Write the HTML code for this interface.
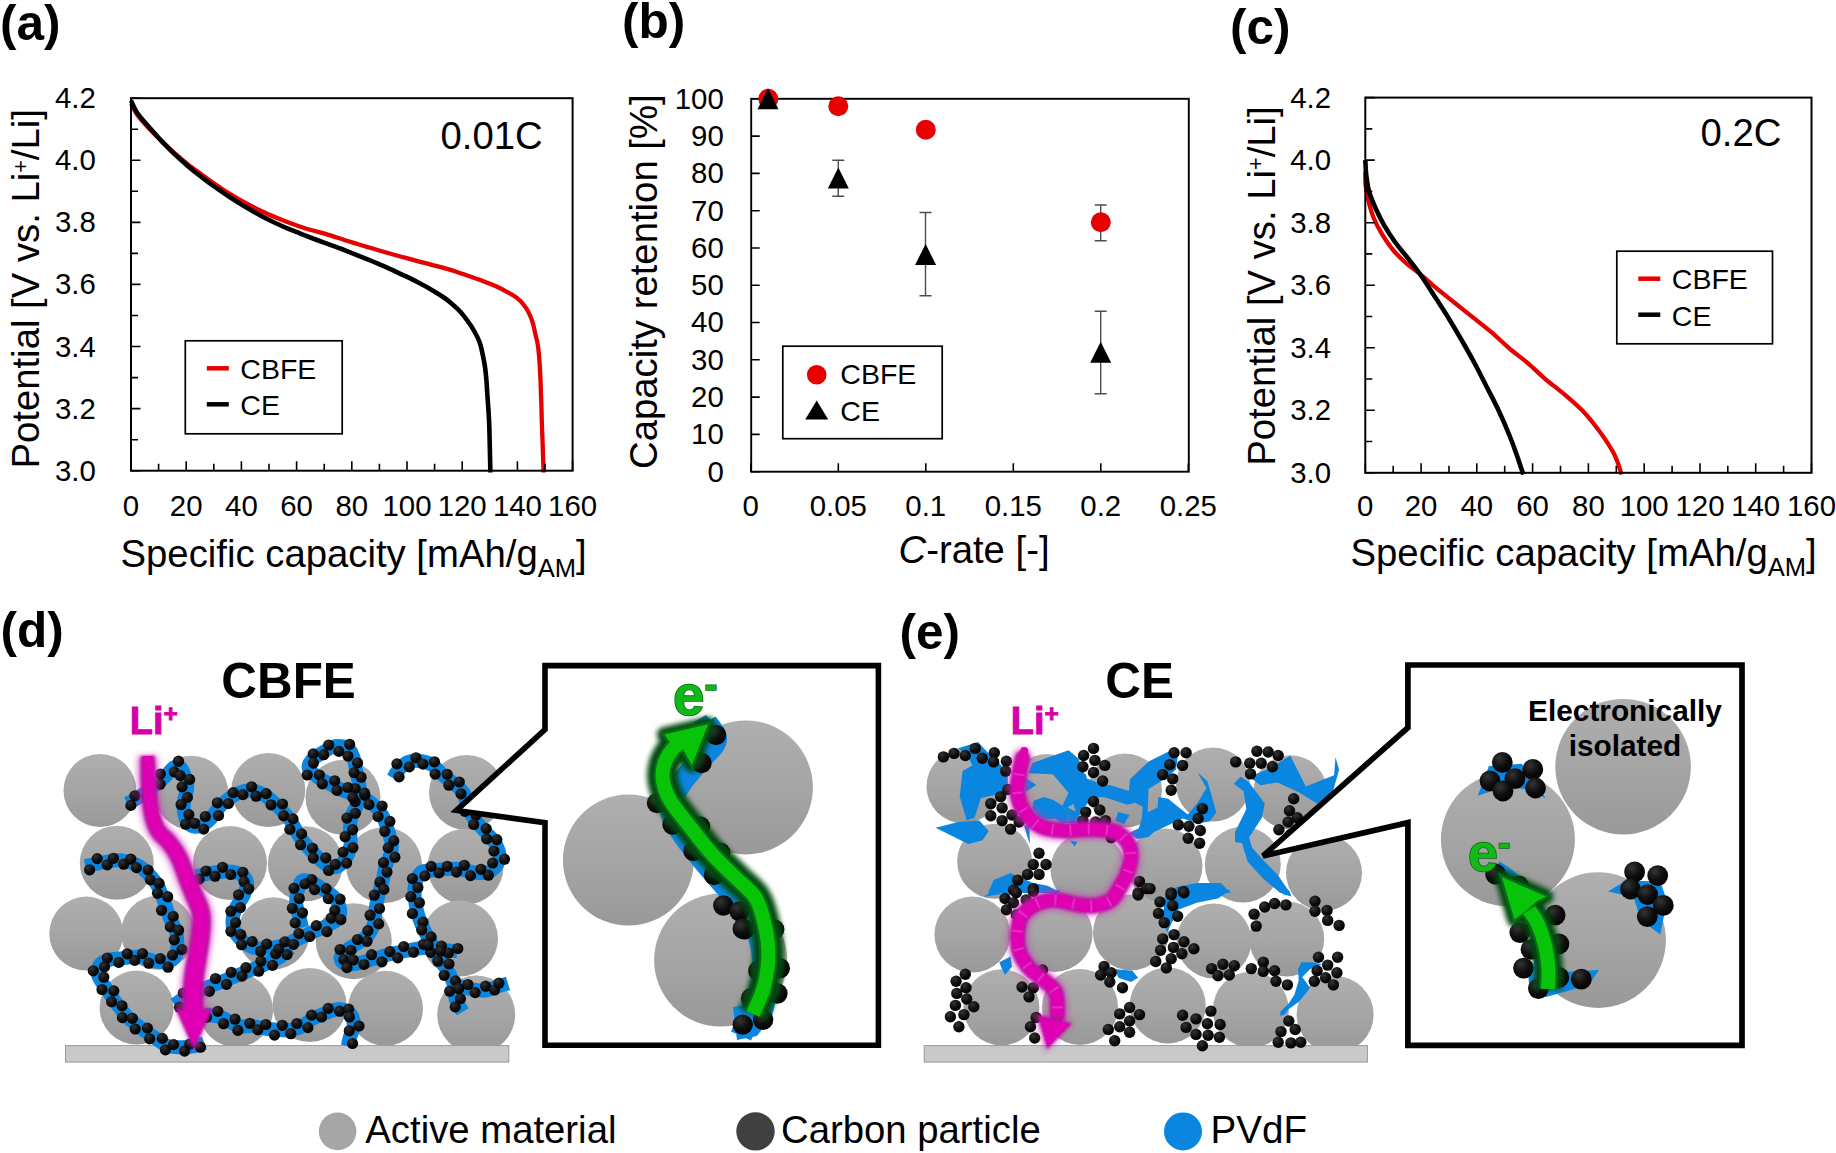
<!DOCTYPE html>
<html><head><meta charset="utf-8"><title>Figure</title>
<style>
html,body{margin:0;padding:0;background:#fff;}
body{width:1836px;height:1153px;overflow:hidden;font-family:"Liberation Sans",sans-serif;}
svg{display:block;font-family:"Liberation Sans",sans-serif;}
</style></head><body>
<svg width="1836" height="1153" viewBox="0 0 1836 1153">
<rect width="1836" height="1153" fill="#fff"/>
<path d="M131.0,103.5 C132.1,105.5 134.3,110.9 137.5,115.2 C140.7,119.5 145.9,125.1 150.1,129.6 C154.3,134.1 158.4,138.1 162.6,142.1 C166.8,146.1 170.9,150.0 175.1,153.7 C179.3,157.4 183.5,160.8 187.7,164.1 C191.9,167.4 196.0,170.4 200.2,173.5 C204.4,176.6 208.5,179.6 212.7,182.5 C216.9,185.4 221.1,188.3 225.3,191.0 C229.5,193.7 233.6,196.1 237.8,198.5 C242.0,200.9 246.1,203.2 250.3,205.4 C254.5,207.6 258.6,209.7 262.8,211.7 C267.0,213.7 271.2,215.5 275.4,217.3 C279.6,219.1 283.7,220.7 287.9,222.3 C292.1,223.9 296.2,225.3 300.4,226.7 C304.6,228.1 308.8,229.3 313.0,230.5 C317.2,231.7 320.2,232.3 325.5,233.9 C330.8,235.5 339.7,238.5 345.0,240.2 C350.3,241.9 353.3,242.7 357.5,244.0 C361.7,245.3 365.9,246.6 370.1,247.8 C374.3,249.1 378.4,250.3 382.6,251.5 C386.8,252.7 390.9,253.8 395.1,255.0 C399.3,256.1 403.5,257.3 407.7,258.4 C411.9,259.5 416.0,260.7 420.2,261.8 C424.4,262.9 428.5,264.0 432.7,265.1 C436.9,266.2 441.1,267.2 445.3,268.4 C449.5,269.6 453.6,270.8 457.8,272.2 C462.0,273.6 466.1,275.1 470.3,276.6 C474.5,278.1 478.6,279.4 482.8,281.0 C487.0,282.6 491.2,284.1 495.4,286.0 C499.6,287.9 504.8,290.6 507.9,292.3 C511.0,294.0 512.1,294.6 514.2,296.0 C516.3,297.4 518.5,299.1 520.4,301.0 C522.3,302.9 524.0,305.2 525.5,307.3 C527.0,309.4 528.0,310.9 529.2,313.6 C530.5,316.3 532.0,320.1 533.0,323.6 C534.0,327.2 534.8,331.8 535.5,334.9 C536.2,338.0 536.8,339.1 537.4,342.5 C538.0,345.9 538.6,350.9 539.0,355.1 C539.4,359.3 539.6,363.4 539.9,367.6 C540.1,371.8 540.3,375.9 540.5,380.1 C540.7,384.3 540.8,388.5 540.9,392.7 C541.0,396.9 541.3,401.0 541.4,405.2 C541.5,409.4 541.6,413.5 541.7,417.7 C541.8,421.9 542.0,426.1 542.1,430.3 C542.2,434.5 542.5,438.6 542.6,442.8 C542.8,447.0 542.8,450.4 543.0,455.3 C543.2,460.2 543.5,469.6 543.6,472.5" fill="none" stroke="#e60000" stroke-width="4.3" stroke-linejoin="round"/>
<path d="M131.0,100.5 C132.1,102.6 134.3,108.7 137.5,113.3 C140.7,117.9 145.9,123.5 150.1,128.3 C154.3,133.1 158.4,137.7 162.6,142.1 C166.8,146.5 170.9,150.7 175.1,154.7 C179.3,158.7 183.5,162.3 187.7,165.9 C191.9,169.5 196.0,172.8 200.2,176.0 C204.4,179.2 208.5,182.4 212.7,185.4 C216.9,188.4 221.1,191.3 225.3,194.1 C229.5,196.9 233.6,199.7 237.8,202.3 C242.0,204.9 246.1,207.4 250.3,209.8 C254.5,212.2 258.6,214.5 262.8,216.7 C267.0,218.9 271.2,221.0 275.4,223.0 C279.6,225.0 283.7,226.8 287.9,228.6 C292.1,230.4 296.2,231.9 300.4,233.6 C304.6,235.2 308.8,236.9 313.0,238.5 C317.2,240.1 321.3,241.6 325.5,243.1 C329.7,244.6 334.8,246.5 338.0,247.7 C341.2,248.9 341.8,249.0 345.0,250.3 C348.2,251.6 353.3,253.6 357.5,255.3 C361.7,257.0 365.9,258.6 370.1,260.3 C374.3,262.0 378.4,263.9 382.6,265.7 C386.8,267.5 390.9,269.4 395.1,271.3 C399.3,273.2 403.5,275.2 407.7,277.2 C411.9,279.2 416.0,281.3 420.2,283.5 C424.4,285.7 428.5,287.9 432.7,290.4 C436.9,292.9 442.2,296.3 445.3,298.5 C448.4,300.7 449.4,301.7 451.5,303.5 C453.6,305.3 455.7,307.1 457.8,309.2 C459.9,311.3 461.9,313.5 464.0,316.1 C466.1,318.7 468.5,322.2 470.3,324.8 C472.1,327.4 473.1,329.1 474.7,332.0 C476.3,334.9 478.3,338.6 479.7,342.5 C481.1,346.4 481.9,350.9 482.8,355.1 C483.7,359.3 484.5,363.4 485.1,367.6 C485.7,371.8 486.0,375.9 486.4,380.1 C486.8,384.3 486.9,388.5 487.2,392.7 C487.5,396.9 487.8,401.0 488.1,405.2 C488.4,409.4 488.7,413.5 488.9,417.7 C489.1,421.9 489.3,426.1 489.4,430.3 C489.5,434.5 489.6,438.6 489.7,442.8 C489.8,447.0 489.9,450.4 490.0,455.3 C490.1,460.2 490.3,469.6 490.4,472.5" fill="none" stroke="#000" stroke-width="4.6" stroke-linejoin="round"/>
<rect x="131.0" y="98.2" width="441.6" height="372.5" fill="none" stroke="#000" stroke-width="2"/>
<path d="M131.0,470.7h9.5M131.0,439.7h7.0M131.0,408.6h9.5M131.0,377.6h7.0M131.0,346.5h9.5M131.0,315.5h7.0M131.0,284.4h9.5M131.0,253.4h7.0M131.0,222.4h9.5M131.0,191.3h7.0M131.0,160.3h9.5M131.0,129.2h7.0M131.0,98.2h9.5M131.0,470.7v-9.5M158.6,470.7v-7.0M186.2,470.7v-9.5M213.8,470.7v-7.0M241.4,470.7v-9.5M269.0,470.7v-7.0M296.6,470.7v-9.5M324.2,470.7v-7.0M351.8,470.7v-9.5M379.4,470.7v-7.0M407.0,470.7v-9.5M434.6,470.7v-7.0M462.2,470.7v-9.5M489.8,470.7v-7.0M517.4,470.7v-9.5M545.0,470.7v-7.0M572.6,470.7v-9.5" stroke="#000" stroke-width="1.6" fill="none"/>
<text x="95.8" y="480.7" font-size="29.4" text-anchor="end" font-weight="normal" fill="#000" >3.0</text>
<text x="95.8" y="418.6" font-size="29.4" text-anchor="end" font-weight="normal" fill="#000" >3.2</text>
<text x="95.8" y="356.5" font-size="29.4" text-anchor="end" font-weight="normal" fill="#000" >3.4</text>
<text x="95.8" y="294.4" font-size="29.4" text-anchor="end" font-weight="normal" fill="#000" >3.6</text>
<text x="95.8" y="232.4" font-size="29.4" text-anchor="end" font-weight="normal" fill="#000" >3.8</text>
<text x="95.8" y="170.3" font-size="29.4" text-anchor="end" font-weight="normal" fill="#000" >4.0</text>
<text x="95.8" y="108.2" font-size="29.4" text-anchor="end" font-weight="normal" fill="#000" >4.2</text>
<text x="131.0" y="515.6" font-size="29.4" text-anchor="middle" font-weight="normal" fill="#000" >0</text>
<text x="186.2" y="515.6" font-size="29.4" text-anchor="middle" font-weight="normal" fill="#000" >20</text>
<text x="241.4" y="515.6" font-size="29.4" text-anchor="middle" font-weight="normal" fill="#000" >40</text>
<text x="296.6" y="515.6" font-size="29.4" text-anchor="middle" font-weight="normal" fill="#000" >60</text>
<text x="351.8" y="515.6" font-size="29.4" text-anchor="middle" font-weight="normal" fill="#000" >80</text>
<text x="407.0" y="515.6" font-size="29.4" text-anchor="middle" font-weight="normal" fill="#000" >100</text>
<text x="462.2" y="515.6" font-size="29.4" text-anchor="middle" font-weight="normal" fill="#000" >120</text>
<text x="517.4" y="515.6" font-size="29.4" text-anchor="middle" font-weight="normal" fill="#000" >140</text>
<text x="572.6" y="515.6" font-size="29.4" text-anchor="middle" font-weight="normal" fill="#000" >160</text>
<text transform="translate(39.0,468.6) rotate(-90)" font-size="38.3" text-anchor="start">Potential [V vs. Li<tspan font-size="21.5" dy="-11.5">+</tspan><tspan dy="11.5">/Li]</tspan></text>
<text x="120.5" y="566.5" font-size="38.3">Specific capacity [mAh/g<tspan font-size="25.5" dy="10">AM</tspan><tspan dy="-10">]</tspan></text>
<text x="440.5" y="149.0" font-size="38.3" text-anchor="start" font-weight="normal" fill="#000" >0.01C</text>
<rect x="185.3" y="340.8" width="156.9" height="93.0" fill="#fff" stroke="#000" stroke-width="1.7"/>
<path d="M206.8,368.3h22" stroke="#e60000" stroke-width="4.5"/>
<path d="M206.8,404.3h22" stroke="#000" stroke-width="4.5"/>
<text x="240.3" y="379.0" font-size="28.5" text-anchor="start" font-weight="normal" fill="#000" >CBFE</text>
<text x="240.3" y="415.2" font-size="28.5" text-anchor="start" font-weight="normal" fill="#000" >CE</text>
<path d="M1365.3,172.0 C1365.3,174.2 1365.1,180.6 1365.6,185.3 C1366.1,190.0 1367.0,195.0 1368.3,200.3 C1369.6,205.6 1371.1,211.4 1373.3,217.0 C1375.5,222.6 1378.4,228.1 1381.7,233.7 C1385.0,239.2 1389.1,245.3 1393.3,250.3 C1397.5,255.3 1402.0,259.5 1406.7,263.7 C1411.4,267.9 1416.8,271.2 1421.7,275.3 C1426.7,279.4 1430.9,283.6 1436.4,288.2 C1441.9,292.8 1448.5,297.9 1454.6,302.8 C1460.7,307.7 1466.8,312.5 1472.9,317.4 C1479.0,322.2 1485.0,326.8 1491.1,331.9 C1497.2,337.0 1503.2,343.1 1509.3,348.3 C1515.4,353.5 1521.4,357.7 1527.5,362.9 C1533.6,368.1 1539.6,374.1 1545.7,379.3 C1551.8,384.5 1557.8,388.7 1563.9,393.9 C1570.0,399.1 1577.2,405.4 1582.1,410.3 C1587.0,415.2 1589.4,418.4 1593.1,423.0 C1596.8,427.6 1600.7,432.8 1604.0,437.6 C1607.3,442.5 1610.7,447.6 1613.1,452.1 C1615.5,456.7 1617.2,461.2 1618.6,464.9 C1620.0,468.6 1621.1,472.9 1621.6,474.5" fill="none" stroke="#e60000" stroke-width="4.3" stroke-linejoin="round"/>
<path d="M1365.3,160.0 C1365.5,162.6 1365.6,170.0 1366.3,175.3 C1367.0,180.6 1367.6,186.4 1369.2,192.0 C1370.8,197.6 1373.3,203.1 1375.8,208.7 C1378.3,214.2 1381.0,219.8 1384.2,225.3 C1387.4,230.9 1391.0,236.4 1395.0,242.0 C1399.0,247.6 1404.0,253.1 1408.3,258.7 C1412.6,264.2 1416.1,268.6 1420.8,275.3 C1425.5,282.0 1431.5,291.6 1436.4,299.1 C1441.3,306.6 1445.6,313.3 1450.0,320.5 C1454.4,327.7 1458.8,335.2 1463.0,342.5 C1467.2,349.8 1471.1,356.7 1475.0,364.0 C1478.9,371.3 1482.6,378.8 1486.5,386.5 C1490.4,394.2 1494.6,401.9 1498.4,410.0 C1502.2,418.1 1506.3,427.6 1509.3,435.0 C1512.3,442.4 1514.3,447.9 1516.6,454.5 C1518.9,461.1 1522.2,471.2 1523.3,474.5" fill="none" stroke="#000" stroke-width="4.6" stroke-linejoin="round"/>
<rect x="1365.3" y="97.6" width="446.2" height="375.2" fill="none" stroke="#000" stroke-width="2"/>
<path d="M1365.3,472.8h9.5M1365.3,441.5h7.0M1365.3,410.3h9.5M1365.3,379.0h7.0M1365.3,347.7h9.5M1365.3,316.5h7.0M1365.3,285.2h9.5M1365.3,253.9h7.0M1365.3,222.7h9.5M1365.3,191.4h7.0M1365.3,160.1h9.5M1365.3,128.9h7.0M1365.3,97.6h9.5M1365.3,472.8v-9.5M1393.2,472.8v-7.0M1421.1,472.8v-9.5M1449.0,472.8v-7.0M1476.8,472.8v-9.5M1504.7,472.8v-7.0M1532.6,472.8v-9.5M1560.5,472.8v-7.0M1588.4,472.8v-9.5M1616.3,472.8v-7.0M1644.2,472.8v-9.5M1672.1,472.8v-7.0M1700.0,472.8v-9.5M1727.8,472.8v-7.0M1755.7,472.8v-9.5M1783.6,472.8v-7.0M1811.5,472.8v-9.5" stroke="#000" stroke-width="1.6" fill="none"/>
<text x="1331.0" y="482.8" font-size="29.4" text-anchor="end" font-weight="normal" fill="#000" >3.0</text>
<text x="1331.0" y="420.3" font-size="29.4" text-anchor="end" font-weight="normal" fill="#000" >3.2</text>
<text x="1331.0" y="357.7" font-size="29.4" text-anchor="end" font-weight="normal" fill="#000" >3.4</text>
<text x="1331.0" y="295.2" font-size="29.4" text-anchor="end" font-weight="normal" fill="#000" >3.6</text>
<text x="1331.0" y="232.7" font-size="29.4" text-anchor="end" font-weight="normal" fill="#000" >3.8</text>
<text x="1331.0" y="170.1" font-size="29.4" text-anchor="end" font-weight="normal" fill="#000" >4.0</text>
<text x="1331.0" y="107.6" font-size="29.4" text-anchor="end" font-weight="normal" fill="#000" >4.2</text>
<text x="1365.3" y="516.2" font-size="29.4" text-anchor="middle" font-weight="normal" fill="#000" >0</text>
<text x="1421.1" y="516.2" font-size="29.4" text-anchor="middle" font-weight="normal" fill="#000" >20</text>
<text x="1476.8" y="516.2" font-size="29.4" text-anchor="middle" font-weight="normal" fill="#000" >40</text>
<text x="1532.6" y="516.2" font-size="29.4" text-anchor="middle" font-weight="normal" fill="#000" >60</text>
<text x="1588.4" y="516.2" font-size="29.4" text-anchor="middle" font-weight="normal" fill="#000" >80</text>
<text x="1644.2" y="516.2" font-size="29.4" text-anchor="middle" font-weight="normal" fill="#000" >100</text>
<text x="1700.0" y="516.2" font-size="29.4" text-anchor="middle" font-weight="normal" fill="#000" >120</text>
<text x="1755.7" y="516.2" font-size="29.4" text-anchor="middle" font-weight="normal" fill="#000" >140</text>
<text x="1811.5" y="516.2" font-size="29.4" text-anchor="middle" font-weight="normal" fill="#000" >160</text>
<text transform="translate(1274.8,465.8) rotate(-90)" font-size="38.3" text-anchor="start">Potential [V vs. Li<tspan font-size="21.5" dy="-11.5">+</tspan><tspan dy="11.5">/Li]</tspan></text>
<text x="1350.5" y="566.0" font-size="38.3">Specific capacity [mAh/g<tspan font-size="25.5" dy="10">AM</tspan><tspan dy="-10">]</tspan></text>
<text x="1700.5" y="146.2" font-size="38.3" text-anchor="start" font-weight="normal" fill="#000" >0.2C</text>
<rect x="1616.8" y="251.2" width="155.7" height="92.6" fill="#fff" stroke="#000" stroke-width="1.7"/>
<path d="M1638.3,278.7h22" stroke="#e60000" stroke-width="4.5"/>
<path d="M1638.3,314.7h22" stroke="#000" stroke-width="4.5"/>
<text x="1671.8" y="289.4" font-size="28.5" text-anchor="start" font-weight="normal" fill="#000" >CBFE</text>
<text x="1671.8" y="325.6" font-size="28.5" text-anchor="start" font-weight="normal" fill="#000" >CE</text>
<path d="M838.3,160.3V196.2M832.3,160.3h12M832.3,196.2h12M925.5,212.5V295.8M919.5,212.5h12M919.5,295.8h12M1100.7,311.3V393.7M1094.7,311.3h12M1094.7,393.7h12M1100.7,205.0V240.8M1094.7,205.0h12M1094.7,240.8h12" stroke="#4d4d4d" stroke-width="1.4" fill="none"/>
<rect x="751.2" y="98.8" width="437.6" height="372.9" fill="none" stroke="#000" stroke-width="1.9"/>
<path d="M751.2,471.7h8.5M751.2,434.4h8.5M751.2,397.1h8.5M751.2,359.8h8.5M751.2,322.5h8.5M751.2,285.2h8.5M751.2,248.0h8.5M751.2,210.7h8.5M751.2,173.4h8.5M751.2,136.1h8.5M751.2,98.8h8.5M750.8,471.7v-8.5M838.3,471.7v-8.5M925.8,471.7v-8.5M1013.3,471.7v-8.5M1100.8,471.7v-8.5M1188.3,471.7v-8.5" stroke="#000" stroke-width="1.6" fill="none"/>
<circle cx="768.3" cy="98.8" r="10" fill="#e60000"/>
<circle cx="838.3" cy="106.3" r="10" fill="#e60000"/>
<circle cx="925.8" cy="129.8" r="10" fill="#e60000"/>
<circle cx="1100.8" cy="222.2" r="10" fill="#e60000"/>
<path d="M768.0,88.3L778.5,109.3L757.5,109.3Z" fill="#000"/>
<path d="M838.3,167.5L848.8,188.5L827.8,188.5Z" fill="#000"/>
<path d="M925.6,243.9L936.1,264.9L915.1,264.9Z" fill="#000"/>
<path d="M1100.7,341.8L1111.2,362.8L1090.2,362.8Z" fill="#000"/>
<text x="723.8" y="481.5" font-size="29.4" text-anchor="end" font-weight="normal" fill="#000" >0</text>
<text x="723.8" y="444.2" font-size="29.4" text-anchor="end" font-weight="normal" fill="#000" >10</text>
<text x="723.8" y="406.9" font-size="29.4" text-anchor="end" font-weight="normal" fill="#000" >20</text>
<text x="723.8" y="369.6" font-size="29.4" text-anchor="end" font-weight="normal" fill="#000" >30</text>
<text x="723.8" y="332.3" font-size="29.4" text-anchor="end" font-weight="normal" fill="#000" >40</text>
<text x="723.8" y="295.1" font-size="29.4" text-anchor="end" font-weight="normal" fill="#000" >50</text>
<text x="723.8" y="257.8" font-size="29.4" text-anchor="end" font-weight="normal" fill="#000" >60</text>
<text x="723.8" y="220.5" font-size="29.4" text-anchor="end" font-weight="normal" fill="#000" >70</text>
<text x="723.8" y="183.2" font-size="29.4" text-anchor="end" font-weight="normal" fill="#000" >80</text>
<text x="723.8" y="145.9" font-size="29.4" text-anchor="end" font-weight="normal" fill="#000" >90</text>
<text x="723.8" y="108.6" font-size="29.4" text-anchor="end" font-weight="normal" fill="#000" >100</text>
<text x="750.8" y="516.3" font-size="29.4" text-anchor="middle" font-weight="normal" fill="#000" >0</text>
<text x="838.3" y="516.3" font-size="29.4" text-anchor="middle" font-weight="normal" fill="#000" >0.05</text>
<text x="925.8" y="516.3" font-size="29.4" text-anchor="middle" font-weight="normal" fill="#000" >0.1</text>
<text x="1013.3" y="516.3" font-size="29.4" text-anchor="middle" font-weight="normal" fill="#000" >0.15</text>
<text x="1100.8" y="516.3" font-size="29.4" text-anchor="middle" font-weight="normal" fill="#000" >0.2</text>
<text x="1188.3" y="516.3" font-size="29.4" text-anchor="middle" font-weight="normal" fill="#000" >0.25</text>
<text transform="translate(656.5,469.0) rotate(-90)" font-size="38.3">Capacity retention [%]</text>
<text x="898.5" y="563.3" font-size="38.3"><tspan font-style="italic">C</tspan>-rate [-]</text>
<rect x="782.8" y="346.2" width="159.4" height="92.5" fill="#fff" stroke="#000" stroke-width="1.7"/>
<circle cx="816.7" cy="374.7" r="9.8" fill="#e60000"/>
<path d="M816.7,400.6L828.2,419.6L805.2,419.6Z" fill="#000"/>
<text x="840.3" y="384.4" font-size="28.5" text-anchor="start" font-weight="normal" fill="#000" >CBFE</text>
<text x="840.3" y="421.0" font-size="28.5" text-anchor="start" font-weight="normal" fill="#000" >CE</text>
<text x="0.0" y="40.3" font-size="49.5" text-anchor="start" font-weight="bold" fill="#000" >(a)</text>
<text x="622.0" y="38.3" font-size="49.5" text-anchor="start" font-weight="bold" fill="#000" >(b)</text>
<text x="1230.0" y="43.6" font-size="49.5" text-anchor="start" font-weight="bold" fill="#000" >(c)</text>
<defs>
<linearGradient id="gs" x1="0" y1="0" x2="0" y2="1"><stop offset="0" stop-color="#afafaf"/><stop offset="0.5" stop-color="#a5a5a5"/><stop offset="1" stop-color="#999999"/></linearGradient>
<radialGradient id="gd" cx="0.36" cy="0.3" r="0.75"><stop offset="0" stop-color="#343434"/><stop offset="0.55" stop-color="#0e0e0e"/><stop offset="1" stop-color="#000"/></radialGradient>
<filter id="blur3" x="-50%" y="-50%" width="200%" height="200%"><feGaussianBlur stdDeviation="3.2"/></filter>
<filter id="blur1" x="-50%" y="-50%" width="200%" height="200%"><feGaussianBlur stdDeviation="1.1"/></filter>
<filter id="blur2" x="-50%" y="-50%" width="200%" height="200%"><feGaussianBlur stdDeviation="2.5"/></filter>
</defs>
<circle cx="100.0" cy="790.5" r="36.5" fill="url(#gs)"/>
<circle cx="191.3" cy="792.7" r="37.0" fill="url(#gs)"/>
<circle cx="268.3" cy="790.0" r="37.0" fill="url(#gs)"/>
<circle cx="343.0" cy="797.3" r="37.5" fill="url(#gs)"/>
<circle cx="466.5" cy="792.5" r="37.5" fill="url(#gs)"/>
<circle cx="116.8" cy="862.8" r="37.0" fill="url(#gs)"/>
<circle cx="230.0" cy="863.0" r="37.0" fill="url(#gs)"/>
<circle cx="305.4" cy="863.8" r="37.5" fill="url(#gs)"/>
<circle cx="384.0" cy="865.2" r="38.0" fill="url(#gs)"/>
<circle cx="465.5" cy="866.7" r="38.0" fill="url(#gs)"/>
<circle cx="86.3" cy="933.6" r="37.0" fill="url(#gs)"/>
<circle cx="158.0" cy="932.8" r="37.0" fill="url(#gs)"/>
<circle cx="273.6" cy="933.2" r="36.0" fill="url(#gs)"/>
<circle cx="353.8" cy="941.2" r="38.0" fill="url(#gs)"/>
<circle cx="460.0" cy="938.5" r="38.0" fill="url(#gs)"/>
<circle cx="136.6" cy="1007.6" r="37.0" fill="url(#gs)"/>
<circle cx="236.0" cy="1010.0" r="37.0" fill="url(#gs)"/>
<circle cx="309.6" cy="1005.0" r="37.0" fill="url(#gs)"/>
<circle cx="385.5" cy="1008.3" r="37.5" fill="url(#gs)"/>
<circle cx="476.2" cy="1014.6" r="39.0" fill="url(#gs)"/>
<rect x="65.5" y="1045.6" width="443.3" height="16.5" fill="#c9c9c9" stroke="#9a9a9a" stroke-width="1"/>
<path d="M127.5,803.5 C129.6,802.3 134.5,800.2 140.0,796.5 C145.5,792.8 154.7,785.8 160.4,781.0 C166.1,776.2 170.6,769.7 174.0,767.5 C177.4,765.3 179.1,766.2 181.0,768.0 C182.9,769.8 184.4,774.7 185.5,778.0 C186.6,781.3 187.6,784.2 187.3,788.0 C187.1,791.8 184.5,796.3 184.0,800.8 C183.5,805.3 183.5,811.0 184.5,815.0 C185.5,819.0 187.5,823.0 190.1,824.9 C192.7,826.8 196.7,827.2 200.0,826.3 C203.3,825.3 206.7,822.5 210.0,819.2 C213.3,815.9 216.6,810.0 219.9,806.5 C223.2,803.0 226.0,800.5 229.8,798.0 C233.6,795.5 238.5,792.8 242.5,791.6 C246.5,790.4 249.9,790.1 253.9,790.9 C257.9,791.7 262.4,793.8 266.6,796.6 C270.9,799.4 275.4,803.9 279.4,807.9 C283.4,811.9 287.5,816.2 290.7,820.7 C293.9,825.2 295.5,830.3 298.4,834.8 C301.3,839.3 305.0,843.8 308.3,847.6 C311.6,851.4 314.9,854.6 318.0,857.5 C321.1,860.4 323.8,863.7 327.0,865.2 C330.2,866.7 334.2,867.9 337.3,866.7 C340.4,865.5 343.6,861.8 345.8,858.2 C348.0,854.7 349.8,850.3 350.5,845.4 C351.2,840.5 349.8,834.1 350.0,829.0 C350.2,823.9 350.4,819.7 352.0,815.0 C353.6,810.3 358.0,805.5 359.3,800.8 C360.6,796.1 360.1,791.4 359.6,786.7 C359.1,782.0 357.5,777.2 356.5,772.5 C355.5,767.8 354.9,762.2 353.7,758.3 C352.4,754.4 351.1,751.0 349.0,749.0 C346.9,747.0 343.8,746.5 341.0,746.2 C338.2,745.9 335.5,745.9 332.4,747.0 C329.3,748.1 325.9,750.6 322.5,752.7 C319.1,754.8 314.5,757.1 312.2,759.7 C309.9,762.3 308.0,765.4 308.8,768.2 C309.6,771.0 313.3,773.7 316.8,776.3 C320.3,778.9 325.1,781.4 329.6,783.8 C334.1,786.2 338.8,788.8 343.7,790.9 C348.6,793.0 354.6,794.5 359.3,796.6 C364.0,798.7 368.3,800.6 372.1,803.7 C375.9,806.8 379.4,810.8 382.0,815.0 C384.6,819.2 386.0,824.5 387.6,829.2 C389.2,833.9 390.9,839.4 391.5,843.3 C392.1,847.2 392.1,848.6 391.1,852.5 C390.1,856.4 386.9,862.0 385.5,866.7 C384.1,871.4 383.8,876.1 382.6,880.8 C381.4,885.5 379.6,890.3 378.4,895.0 C377.2,899.7 376.3,904.5 375.6,909.2 C374.9,913.9 375.3,919.1 374.1,923.3 C372.9,927.5 370.9,931.5 368.5,934.6 C366.1,937.7 363.3,939.3 360.0,941.7 C356.7,944.1 351.9,946.2 348.6,948.8 C345.4,951.4 341.0,954.7 340.5,957.3 C340.0,959.9 342.6,963.4 345.8,964.4 C349.1,965.4 355.3,964.0 360.0,963.0 C364.7,962.0 369.4,960.1 374.1,958.7 C378.8,957.3 383.6,955.7 388.3,954.5 C393.0,953.3 397.8,952.6 402.5,951.6 C407.2,950.6 411.9,949.5 416.6,948.8 C421.3,948.1 426.1,947.2 430.8,947.4 C435.5,947.6 440.6,949.6 445.0,950.2 C449.4,950.8 455.0,950.9 457.0,951.0" fill="none" stroke="#0a86e0" stroke-width="14.0" stroke-linejoin="round" stroke-linecap="butt"/>
<path d="M85.3,866.0 C87.7,865.5 93.8,864.1 99.5,863.1 C105.2,862.1 113.2,860.0 119.3,860.3 C125.4,860.5 131.6,862.5 136.3,864.6 C141.0,866.7 144.3,870.0 147.6,873.1 C150.9,876.2 153.9,879.7 156.1,883.0 C158.3,886.3 159.5,889.5 161.0,893.0 C162.5,896.5 163.5,900.0 165.0,904.2 C166.5,908.4 168.2,913.8 170.0,918.3 C171.8,922.8 174.8,926.9 176.0,931.1 C177.2,935.4 177.4,939.8 177.4,943.8 C177.4,947.8 177.7,952.1 176.0,955.2 C174.3,958.3 171.3,961.3 167.5,962.2 C163.7,963.1 158.0,961.7 153.3,960.8 C148.6,959.9 143.9,957.1 139.2,956.6 C134.5,956.1 129.7,957.5 125.0,958.0 C120.3,958.5 114.9,958.4 110.8,959.4 C106.7,960.4 102.6,961.4 100.5,964.0 C98.4,966.6 97.1,970.8 98.1,975.0 C99.1,979.2 103.5,984.5 106.6,989.2 C109.7,993.9 113.0,998.6 116.5,1003.3 C120.0,1008.0 123.5,1013.2 127.8,1017.5 C132.1,1021.8 137.3,1025.3 142.0,1028.8 C146.7,1032.3 151.8,1035.9 156.1,1038.7 C160.3,1041.5 163.2,1044.4 167.5,1045.8 C171.8,1047.2 176.9,1047.2 181.6,1047.2 C186.3,1047.2 192.0,1046.5 195.8,1045.8 C199.6,1045.1 202.9,1043.5 204.3,1043.0" fill="none" stroke="#0a86e0" stroke-width="14.0" stroke-linejoin="round" stroke-linecap="butt"/>
<path d="M204.3,1014.6 C207.1,1015.1 215.6,1015.6 221.3,1017.5 C227.0,1019.4 233.1,1024.6 238.3,1026.0 C243.5,1027.4 247.8,1025.5 252.5,1026.0 C257.2,1026.5 260.9,1028.1 266.6,1028.8 C272.3,1029.5 280.9,1030.4 286.5,1030.2 C292.1,1030.0 295.8,1029.3 300.0,1027.4 C304.2,1025.5 307.8,1021.4 312.0,1019.0 C316.2,1016.6 320.7,1014.9 325.3,1013.2 C329.9,1011.5 335.2,1008.8 339.5,1009.0 C343.8,1009.2 348.4,1011.8 350.8,1014.6 C353.2,1017.4 353.9,1022.0 353.7,1026.0 C353.5,1030.0 350.3,1035.4 349.4,1038.7 C348.4,1042.0 348.2,1044.8 348.0,1046.0" fill="none" stroke="#0a86e0" stroke-width="14.0" stroke-linejoin="round" stroke-linecap="butt"/>
<path d="M174.6,1004.7 C176.8,1003.2 183.3,998.6 188.0,996.0 C192.7,993.4 196.9,991.8 202.9,989.2 C208.9,986.7 217.0,983.5 224.1,980.7 C231.2,977.9 238.3,975.0 245.4,972.2 C252.5,969.4 260.7,966.3 266.6,963.7 C272.5,961.1 276.9,959.2 280.8,956.6 C284.7,954.0 288.5,949.4 290.0,948.0" fill="none" stroke="#0a86e0" stroke-width="14.0" stroke-linejoin="round" stroke-linecap="butt"/>
<path d="M195.7,876.6 C199.0,875.9 208.9,873.0 215.5,872.3 C222.1,871.6 230.1,870.9 235.3,872.3 C240.5,873.7 245.3,877.0 246.7,880.8 C248.1,884.6 245.7,890.3 243.8,895.0 C241.9,899.7 237.2,904.5 235.3,909.2 C233.4,913.9 232.3,919.1 232.5,923.3 C232.7,927.5 233.9,930.8 236.7,934.6 C239.5,938.4 245.0,943.6 249.5,946.0 C254.0,948.4 258.5,948.8 263.7,948.8 C268.9,948.8 275.5,947.4 280.7,946.0 C285.9,944.6 289.9,942.4 294.8,940.3 C299.8,938.2 305.2,935.6 310.4,933.2 C315.6,930.8 321.5,928.5 326.0,926.1 C330.5,923.8 334.9,921.9 337.3,919.1 C339.7,916.3 340.6,912.8 340.1,909.2 C339.6,905.7 337.3,901.1 334.5,897.8 C331.7,894.5 326.9,891.9 323.1,889.3 C319.3,886.7 315.3,883.6 311.8,882.2 C308.3,880.8 304.3,879.4 301.9,880.8 C299.5,882.2 298.6,886.9 297.6,890.7 C296.7,894.5 295.9,899.2 296.2,903.5 C296.4,907.8 298.2,912.2 299.1,916.2 C300.1,920.2 301.4,925.7 301.9,927.6" fill="none" stroke="#0a86e0" stroke-width="14.0" stroke-linejoin="round" stroke-linecap="butt"/>
<path d="M393.3,778.2 C394.0,777.0 395.2,773.8 397.6,771.1 C400.0,768.4 403.5,763.9 407.5,762.2 C411.5,760.6 417.4,760.7 421.6,761.2 C425.9,761.7 429.4,763.0 433.0,765.4 C436.6,767.8 439.4,772.2 442.9,775.3 C446.4,778.4 450.7,780.7 454.2,783.8 C457.7,786.9 462.0,789.9 464.1,793.7 C466.2,797.5 465.1,802.0 467.0,806.5 C468.9,811.0 472.4,816.4 475.5,820.6 C478.6,824.9 482.1,828.2 485.4,832.0 C488.7,835.8 492.9,839.0 495.3,843.3 C497.7,847.5 500.0,853.0 499.5,857.5 C499.0,862.0 495.9,867.4 492.4,870.0 C488.9,872.6 484.2,873.2 478.3,873.0 C472.4,872.8 464.1,869.3 457.0,868.8 C449.9,868.3 441.8,869.6 435.8,870.2 C429.8,870.8 424.5,869.6 421.0,872.3 C417.5,875.0 415.8,881.8 414.8,886.5 C413.8,891.2 414.7,896.0 415.2,900.7 C415.7,905.4 416.6,910.1 418.0,914.8 C419.4,919.5 421.7,924.6 423.7,929.0 C425.7,933.4 428.1,937.1 430.1,941.0 C432.1,944.9 433.7,948.5 435.8,952.3 C437.9,956.1 440.5,959.9 442.9,963.7 C445.3,967.5 448.1,971.2 450.0,975.0 C451.9,978.8 453.3,982.3 454.2,986.3 C455.1,990.3 454.2,994.9 455.6,999.1 C457.0,1003.4 461.5,1009.7 462.7,1011.8" fill="none" stroke="#0a86e0" stroke-width="14.0" stroke-linejoin="round" stroke-linecap="butt"/>
<path d="M456.0,985.5 C458.5,986.1 466.3,988.4 471.2,989.2 C476.1,990.1 480.9,991.1 485.4,990.6 C489.9,990.1 494.3,987.5 498.1,986.3 C501.9,985.1 506.4,984.0 508.0,983.5" fill="none" stroke="#0a86e0" stroke-width="14.0" stroke-linejoin="round" stroke-linecap="butt"/>
<circle cx="130.9" cy="805.4" r="5.6" fill="url(#gd)"/>
<circle cx="135.0" cy="795.8" r="5.6" fill="url(#gd)"/>
<circle cx="147.1" cy="796.3" r="5.6" fill="url(#gd)"/>
<circle cx="148.9" cy="783.6" r="5.6" fill="url(#gd)"/>
<circle cx="160.1" cy="784.3" r="5.6" fill="url(#gd)"/>
<circle cx="160.3" cy="774.0" r="5.6" fill="url(#gd)"/>
<circle cx="174.2" cy="771.9" r="5.6" fill="url(#gd)"/>
<circle cx="178.5" cy="761.2" r="5.6" fill="url(#gd)"/>
<circle cx="180.3" cy="775.6" r="5.6" fill="url(#gd)"/>
<circle cx="189.7" cy="779.4" r="5.6" fill="url(#gd)"/>
<circle cx="182.1" cy="786.8" r="5.6" fill="url(#gd)"/>
<circle cx="187.4" cy="797.4" r="5.6" fill="url(#gd)"/>
<circle cx="181.1" cy="804.5" r="5.6" fill="url(#gd)"/>
<circle cx="188.9" cy="814.6" r="5.6" fill="url(#gd)"/>
<circle cx="185.6" cy="824.2" r="5.6" fill="url(#gd)"/>
<circle cx="194.7" cy="823.3" r="5.6" fill="url(#gd)"/>
<circle cx="203.7" cy="829.1" r="5.6" fill="url(#gd)"/>
<circle cx="205.3" cy="816.5" r="5.6" fill="url(#gd)"/>
<circle cx="218.5" cy="815.5" r="5.6" fill="url(#gd)"/>
<circle cx="217.4" cy="802.8" r="5.6" fill="url(#gd)"/>
<circle cx="228.4" cy="803.5" r="5.6" fill="url(#gd)"/>
<circle cx="233.1" cy="792.6" r="5.6" fill="url(#gd)"/>
<circle cx="242.9" cy="794.6" r="5.6" fill="url(#gd)"/>
<circle cx="251.6" cy="786.8" r="5.6" fill="url(#gd)"/>
<circle cx="256.1" cy="796.2" r="5.6" fill="url(#gd)"/>
<circle cx="266.2" cy="793.6" r="5.6" fill="url(#gd)"/>
<circle cx="271.1" cy="804.8" r="5.6" fill="url(#gd)"/>
<circle cx="282.5" cy="804.0" r="5.6" fill="url(#gd)"/>
<circle cx="283.7" cy="815.7" r="5.6" fill="url(#gd)"/>
<circle cx="293.0" cy="818.9" r="5.6" fill="url(#gd)"/>
<circle cx="289.9" cy="829.4" r="5.6" fill="url(#gd)"/>
<circle cx="301.6" cy="833.9" r="5.6" fill="url(#gd)"/>
<circle cx="300.6" cy="844.7" r="5.6" fill="url(#gd)"/>
<circle cx="312.5" cy="848.3" r="5.6" fill="url(#gd)"/>
<circle cx="313.3" cy="858.1" r="5.6" fill="url(#gd)"/>
<circle cx="325.8" cy="857.8" r="5.6" fill="url(#gd)"/>
<circle cx="328.7" cy="870.5" r="5.6" fill="url(#gd)"/>
<circle cx="335.4" cy="864.4" r="5.6" fill="url(#gd)"/>
<circle cx="346.6" cy="863.1" r="5.6" fill="url(#gd)"/>
<circle cx="343.0" cy="852.1" r="5.6" fill="url(#gd)"/>
<circle cx="352.9" cy="847.6" r="5.6" fill="url(#gd)"/>
<circle cx="345.1" cy="836.7" r="5.6" fill="url(#gd)"/>
<circle cx="352.6" cy="829.7" r="5.6" fill="url(#gd)"/>
<circle cx="346.9" cy="818.1" r="5.6" fill="url(#gd)"/>
<circle cx="355.4" cy="813.3" r="5.6" fill="url(#gd)"/>
<circle cx="355.2" cy="801.6" r="5.6" fill="url(#gd)"/>
<circle cx="364.9" cy="795.4" r="5.6" fill="url(#gd)"/>
<circle cx="355.2" cy="788.5" r="5.6" fill="url(#gd)"/>
<circle cx="361.1" cy="777.2" r="5.6" fill="url(#gd)"/>
<circle cx="354.1" cy="772.6" r="5.6" fill="url(#gd)"/>
<circle cx="357.6" cy="762.9" r="5.6" fill="url(#gd)"/>
<circle cx="348.0" cy="756.1" r="5.6" fill="url(#gd)"/>
<circle cx="349.6" cy="744.3" r="5.6" fill="url(#gd)"/>
<circle cx="338.9" cy="751.4" r="5.6" fill="url(#gd)"/>
<circle cx="328.7" cy="745.0" r="5.6" fill="url(#gd)"/>
<circle cx="323.7" cy="754.7" r="5.6" fill="url(#gd)"/>
<circle cx="313.2" cy="753.9" r="5.6" fill="url(#gd)"/>
<circle cx="313.4" cy="763.1" r="5.6" fill="url(#gd)"/>
<circle cx="307.2" cy="775.0" r="5.6" fill="url(#gd)"/>
<circle cx="319.4" cy="775.0" r="5.6" fill="url(#gd)"/>
<circle cx="322.3" cy="783.8" r="5.6" fill="url(#gd)"/>
<circle cx="334.7" cy="780.8" r="5.6" fill="url(#gd)"/>
<circle cx="337.0" cy="790.4" r="5.6" fill="url(#gd)"/>
<circle cx="347.8" cy="787.5" r="5.6" fill="url(#gd)"/>
<circle cx="352.9" cy="797.7" r="5.6" fill="url(#gd)"/>
<circle cx="364.6" cy="793.1" r="5.6" fill="url(#gd)"/>
<circle cx="369.0" cy="804.5" r="5.6" fill="url(#gd)"/>
<circle cx="382.1" cy="806.0" r="5.6" fill="url(#gd)"/>
<circle cx="378.1" cy="816.5" r="5.6" fill="url(#gd)"/>
<circle cx="389.9" cy="821.4" r="5.6" fill="url(#gd)"/>
<circle cx="384.8" cy="831.3" r="5.6" fill="url(#gd)"/>
<circle cx="393.8" cy="840.9" r="5.6" fill="url(#gd)"/>
<circle cx="388.2" cy="847.9" r="5.6" fill="url(#gd)"/>
<circle cx="394.9" cy="857.2" r="5.6" fill="url(#gd)"/>
<circle cx="383.5" cy="862.5" r="5.6" fill="url(#gd)"/>
<circle cx="387.0" cy="872.1" r="5.6" fill="url(#gd)"/>
<circle cx="379.9" cy="882.2" r="5.6" fill="url(#gd)"/>
<circle cx="383.9" cy="889.4" r="5.6" fill="url(#gd)"/>
<circle cx="374.3" cy="895.2" r="5.6" fill="url(#gd)"/>
<circle cx="379.5" cy="908.5" r="5.6" fill="url(#gd)"/>
<circle cx="370.1" cy="915.2" r="5.6" fill="url(#gd)"/>
<circle cx="378.7" cy="923.9" r="5.6" fill="url(#gd)"/>
<circle cx="367.9" cy="930.7" r="5.6" fill="url(#gd)"/>
<circle cx="367.0" cy="941.3" r="5.6" fill="url(#gd)"/>
<circle cx="357.5" cy="939.5" r="5.6" fill="url(#gd)"/>
<circle cx="351.0" cy="950.4" r="5.6" fill="url(#gd)"/>
<circle cx="340.1" cy="949.5" r="5.6" fill="url(#gd)"/>
<circle cx="343.7" cy="959.6" r="5.6" fill="url(#gd)"/>
<circle cx="347.0" cy="967.6" r="5.6" fill="url(#gd)"/>
<circle cx="353.3" cy="960.0" r="5.6" fill="url(#gd)"/>
<circle cx="364.0" cy="964.4" r="5.6" fill="url(#gd)"/>
<circle cx="371.6" cy="954.7" r="5.6" fill="url(#gd)"/>
<circle cx="381.9" cy="961.8" r="5.6" fill="url(#gd)"/>
<circle cx="389.9" cy="951.6" r="5.6" fill="url(#gd)"/>
<circle cx="397.7" cy="957.9" r="5.6" fill="url(#gd)"/>
<circle cx="403.7" cy="946.6" r="5.6" fill="url(#gd)"/>
<circle cx="413.5" cy="952.2" r="5.6" fill="url(#gd)"/>
<circle cx="423.5" cy="944.3" r="5.6" fill="url(#gd)"/>
<circle cx="430.7" cy="952.3" r="5.6" fill="url(#gd)"/>
<circle cx="441.4" cy="946.1" r="5.6" fill="url(#gd)"/>
<circle cx="448.4" cy="953.0" r="5.6" fill="url(#gd)"/>
<circle cx="457.8" cy="948.5" r="5.6" fill="url(#gd)"/>
<circle cx="89.6" cy="869.8" r="5.6" fill="url(#gd)"/>
<circle cx="97.2" cy="858.6" r="5.6" fill="url(#gd)"/>
<circle cx="107.2" cy="864.9" r="5.6" fill="url(#gd)"/>
<circle cx="113.4" cy="858.3" r="5.6" fill="url(#gd)"/>
<circle cx="123.7" cy="864.2" r="5.6" fill="url(#gd)"/>
<circle cx="130.8" cy="859.2" r="5.6" fill="url(#gd)"/>
<circle cx="136.4" cy="867.6" r="5.6" fill="url(#gd)"/>
<circle cx="148.1" cy="870.1" r="5.6" fill="url(#gd)"/>
<circle cx="150.4" cy="879.9" r="5.6" fill="url(#gd)"/>
<circle cx="159.1" cy="883.4" r="5.6" fill="url(#gd)"/>
<circle cx="157.5" cy="893.3" r="5.6" fill="url(#gd)"/>
<circle cx="167.7" cy="896.7" r="5.6" fill="url(#gd)"/>
<circle cx="161.5" cy="910.3" r="5.6" fill="url(#gd)"/>
<circle cx="173.2" cy="916.4" r="5.6" fill="url(#gd)"/>
<circle cx="170.3" cy="926.9" r="5.6" fill="url(#gd)"/>
<circle cx="178.6" cy="930.2" r="5.6" fill="url(#gd)"/>
<circle cx="174.3" cy="939.8" r="5.6" fill="url(#gd)"/>
<circle cx="182.0" cy="949.5" r="5.6" fill="url(#gd)"/>
<circle cx="172.6" cy="955.0" r="5.6" fill="url(#gd)"/>
<circle cx="168.0" cy="967.2" r="5.6" fill="url(#gd)"/>
<circle cx="160.2" cy="958.7" r="5.6" fill="url(#gd)"/>
<circle cx="148.7" cy="963.2" r="5.6" fill="url(#gd)"/>
<circle cx="142.5" cy="953.6" r="5.6" fill="url(#gd)"/>
<circle cx="134.7" cy="960.4" r="5.6" fill="url(#gd)"/>
<circle cx="127.2" cy="953.8" r="5.6" fill="url(#gd)"/>
<circle cx="118.8" cy="962.4" r="5.6" fill="url(#gd)"/>
<circle cx="107.3" cy="958.0" r="5.6" fill="url(#gd)"/>
<circle cx="104.5" cy="966.8" r="5.6" fill="url(#gd)"/>
<circle cx="93.3" cy="970.8" r="5.6" fill="url(#gd)"/>
<circle cx="103.8" cy="977.2" r="5.6" fill="url(#gd)"/>
<circle cx="102.0" cy="989.5" r="5.6" fill="url(#gd)"/>
<circle cx="113.8" cy="990.9" r="5.6" fill="url(#gd)"/>
<circle cx="111.6" cy="1001.7" r="5.6" fill="url(#gd)"/>
<circle cx="122.0" cy="1005.8" r="5.6" fill="url(#gd)"/>
<circle cx="122.4" cy="1017.6" r="5.6" fill="url(#gd)"/>
<circle cx="132.4" cy="1018.3" r="5.6" fill="url(#gd)"/>
<circle cx="135.2" cy="1029.0" r="5.6" fill="url(#gd)"/>
<circle cx="147.4" cy="1028.1" r="5.6" fill="url(#gd)"/>
<circle cx="149.7" cy="1038.8" r="5.6" fill="url(#gd)"/>
<circle cx="162.3" cy="1038.4" r="5.6" fill="url(#gd)"/>
<circle cx="165.4" cy="1049.8" r="5.6" fill="url(#gd)"/>
<circle cx="173.6" cy="1044.6" r="5.6" fill="url(#gd)"/>
<circle cx="184.6" cy="1051.1" r="5.6" fill="url(#gd)"/>
<circle cx="189.8" cy="1044.0" r="5.6" fill="url(#gd)"/>
<circle cx="200.5" cy="1047.2" r="5.6" fill="url(#gd)"/>
<circle cx="206.5" cy="1017.3" r="5.6" fill="url(#gd)"/>
<circle cx="217.8" cy="1011.3" r="5.6" fill="url(#gd)"/>
<circle cx="223.6" cy="1023.7" r="5.6" fill="url(#gd)"/>
<circle cx="235.0" cy="1019.2" r="5.6" fill="url(#gd)"/>
<circle cx="237.9" cy="1030.4" r="5.6" fill="url(#gd)"/>
<circle cx="249.8" cy="1023.3" r="5.6" fill="url(#gd)"/>
<circle cx="257.8" cy="1029.9" r="5.6" fill="url(#gd)"/>
<circle cx="265.8" cy="1024.5" r="5.6" fill="url(#gd)"/>
<circle cx="274.5" cy="1035.1" r="5.6" fill="url(#gd)"/>
<circle cx="282.3" cy="1025.3" r="5.6" fill="url(#gd)"/>
<circle cx="290.8" cy="1033.7" r="5.6" fill="url(#gd)"/>
<circle cx="296.9" cy="1023.5" r="5.6" fill="url(#gd)"/>
<circle cx="307.9" cy="1027.6" r="5.6" fill="url(#gd)"/>
<circle cx="311.6" cy="1015.1" r="5.6" fill="url(#gd)"/>
<circle cx="321.6" cy="1017.0" r="5.6" fill="url(#gd)"/>
<circle cx="328.2" cy="1008.4" r="5.6" fill="url(#gd)"/>
<circle cx="339.6" cy="1011.2" r="5.6" fill="url(#gd)"/>
<circle cx="348.7" cy="1009.1" r="5.6" fill="url(#gd)"/>
<circle cx="349.4" cy="1017.0" r="5.6" fill="url(#gd)"/>
<circle cx="359.0" cy="1026.0" r="5.6" fill="url(#gd)"/>
<circle cx="349.3" cy="1030.8" r="5.6" fill="url(#gd)"/>
<circle cx="352.5" cy="1043.5" r="5.6" fill="url(#gd)"/>
<circle cx="179.5" cy="1007.2" r="5.6" fill="url(#gd)"/>
<circle cx="183.3" cy="993.0" r="5.6" fill="url(#gd)"/>
<circle cx="194.5" cy="997.2" r="5.6" fill="url(#gd)"/>
<circle cx="196.6" cy="986.3" r="5.6" fill="url(#gd)"/>
<circle cx="209.4" cy="991.3" r="5.6" fill="url(#gd)"/>
<circle cx="215.5" cy="978.5" r="5.6" fill="url(#gd)"/>
<circle cx="226.5" cy="984.3" r="5.6" fill="url(#gd)"/>
<circle cx="231.2" cy="972.3" r="5.6" fill="url(#gd)"/>
<circle cx="242.0" cy="976.1" r="5.6" fill="url(#gd)"/>
<circle cx="245.9" cy="967.7" r="5.6" fill="url(#gd)"/>
<circle cx="258.8" cy="971.2" r="5.6" fill="url(#gd)"/>
<circle cx="260.9" cy="961.2" r="5.6" fill="url(#gd)"/>
<circle cx="272.5" cy="965.3" r="5.6" fill="url(#gd)"/>
<circle cx="275.7" cy="953.8" r="5.6" fill="url(#gd)"/>
<circle cx="287.0" cy="954.5" r="5.6" fill="url(#gd)"/>
<circle cx="199.1" cy="879.1" r="5.6" fill="url(#gd)"/>
<circle cx="206.0" cy="871.0" r="5.6" fill="url(#gd)"/>
<circle cx="215.1" cy="876.2" r="5.6" fill="url(#gd)"/>
<circle cx="222.5" cy="867.3" r="5.6" fill="url(#gd)"/>
<circle cx="230.8" cy="874.5" r="5.6" fill="url(#gd)"/>
<circle cx="242.8" cy="872.3" r="5.6" fill="url(#gd)"/>
<circle cx="244.1" cy="881.7" r="5.6" fill="url(#gd)"/>
<circle cx="248.7" cy="888.8" r="5.6" fill="url(#gd)"/>
<circle cx="238.6" cy="894.8" r="5.6" fill="url(#gd)"/>
<circle cx="240.4" cy="907.6" r="5.6" fill="url(#gd)"/>
<circle cx="230.9" cy="911.2" r="5.6" fill="url(#gd)"/>
<circle cx="235.6" cy="922.6" r="5.6" fill="url(#gd)"/>
<circle cx="230.9" cy="931.3" r="5.6" fill="url(#gd)"/>
<circle cx="240.8" cy="934.7" r="5.6" fill="url(#gd)"/>
<circle cx="241.6" cy="944.7" r="5.6" fill="url(#gd)"/>
<circle cx="252.2" cy="941.6" r="5.6" fill="url(#gd)"/>
<circle cx="260.6" cy="951.2" r="5.6" fill="url(#gd)"/>
<circle cx="266.7" cy="944.1" r="5.6" fill="url(#gd)"/>
<circle cx="278.7" cy="949.1" r="5.6" fill="url(#gd)"/>
<circle cx="284.8" cy="941.9" r="5.6" fill="url(#gd)"/>
<circle cx="293.5" cy="944.3" r="5.6" fill="url(#gd)"/>
<circle cx="298.9" cy="933.6" r="5.6" fill="url(#gd)"/>
<circle cx="309.7" cy="936.5" r="5.6" fill="url(#gd)"/>
<circle cx="316.3" cy="925.6" r="5.6" fill="url(#gd)"/>
<circle cx="326.9" cy="931.6" r="5.6" fill="url(#gd)"/>
<circle cx="331.3" cy="918.1" r="5.6" fill="url(#gd)"/>
<circle cx="340.9" cy="919.6" r="5.6" fill="url(#gd)"/>
<circle cx="334.8" cy="910.4" r="5.6" fill="url(#gd)"/>
<circle cx="340.1" cy="899.2" r="5.6" fill="url(#gd)"/>
<circle cx="328.3" cy="898.6" r="5.6" fill="url(#gd)"/>
<circle cx="326.1" cy="888.6" r="5.6" fill="url(#gd)"/>
<circle cx="314.6" cy="889.6" r="5.6" fill="url(#gd)"/>
<circle cx="311.8" cy="879.6" r="5.6" fill="url(#gd)"/>
<circle cx="305.0" cy="883.9" r="5.6" fill="url(#gd)"/>
<circle cx="294.0" cy="888.3" r="5.6" fill="url(#gd)"/>
<circle cx="299.3" cy="898.5" r="5.6" fill="url(#gd)"/>
<circle cx="292.3" cy="908.3" r="5.6" fill="url(#gd)"/>
<circle cx="302.5" cy="912.8" r="5.6" fill="url(#gd)"/>
<circle cx="295.2" cy="922.9" r="5.6" fill="url(#gd)"/>
<circle cx="399.1" cy="776.9" r="5.6" fill="url(#gd)"/>
<circle cx="396.9" cy="763.9" r="5.6" fill="url(#gd)"/>
<circle cx="409.3" cy="766.9" r="5.6" fill="url(#gd)"/>
<circle cx="415.9" cy="757.8" r="5.6" fill="url(#gd)"/>
<circle cx="423.0" cy="764.1" r="5.6" fill="url(#gd)"/>
<circle cx="434.4" cy="761.8" r="5.6" fill="url(#gd)"/>
<circle cx="435.1" cy="774.1" r="5.6" fill="url(#gd)"/>
<circle cx="447.2" cy="774.3" r="5.6" fill="url(#gd)"/>
<circle cx="448.9" cy="785.2" r="5.6" fill="url(#gd)"/>
<circle cx="459.3" cy="782.0" r="5.6" fill="url(#gd)"/>
<circle cx="461.0" cy="793.8" r="5.6" fill="url(#gd)"/>
<circle cx="470.9" cy="801.6" r="5.6" fill="url(#gd)"/>
<circle cx="464.9" cy="811.3" r="5.6" fill="url(#gd)"/>
<circle cx="475.8" cy="815.2" r="5.6" fill="url(#gd)"/>
<circle cx="473.7" cy="824.5" r="5.6" fill="url(#gd)"/>
<circle cx="486.2" cy="828.6" r="5.6" fill="url(#gd)"/>
<circle cx="486.7" cy="838.9" r="5.6" fill="url(#gd)"/>
<circle cx="496.9" cy="839.6" r="5.6" fill="url(#gd)"/>
<circle cx="493.9" cy="851.0" r="5.6" fill="url(#gd)"/>
<circle cx="504.5" cy="859.2" r="5.6" fill="url(#gd)"/>
<circle cx="492.7" cy="863.0" r="5.6" fill="url(#gd)"/>
<circle cx="488.4" cy="875.2" r="5.6" fill="url(#gd)"/>
<circle cx="480.9" cy="869.3" r="5.6" fill="url(#gd)"/>
<circle cx="470.5" cy="875.6" r="5.6" fill="url(#gd)"/>
<circle cx="464.3" cy="865.3" r="5.6" fill="url(#gd)"/>
<circle cx="456.6" cy="872.1" r="5.6" fill="url(#gd)"/>
<circle cx="447.2" cy="866.3" r="5.6" fill="url(#gd)"/>
<circle cx="439.0" cy="872.9" r="5.6" fill="url(#gd)"/>
<circle cx="431.1" cy="866.4" r="5.6" fill="url(#gd)"/>
<circle cx="424.9" cy="875.9" r="5.6" fill="url(#gd)"/>
<circle cx="412.4" cy="878.6" r="5.6" fill="url(#gd)"/>
<circle cx="417.9" cy="887.5" r="5.6" fill="url(#gd)"/>
<circle cx="410.8" cy="896.6" r="5.6" fill="url(#gd)"/>
<circle cx="419.4" cy="902.8" r="5.6" fill="url(#gd)"/>
<circle cx="412.4" cy="913.5" r="5.6" fill="url(#gd)"/>
<circle cx="423.0" cy="922.0" r="5.6" fill="url(#gd)"/>
<circle cx="421.7" cy="930.0" r="5.6" fill="url(#gd)"/>
<circle cx="431.1" cy="936.9" r="5.6" fill="url(#gd)"/>
<circle cx="428.2" cy="945.3" r="5.6" fill="url(#gd)"/>
<circle cx="440.6" cy="951.2" r="5.6" fill="url(#gd)"/>
<circle cx="437.9" cy="961.2" r="5.6" fill="url(#gd)"/>
<circle cx="449.0" cy="964.0" r="5.6" fill="url(#gd)"/>
<circle cx="444.2" cy="975.3" r="5.6" fill="url(#gd)"/>
<circle cx="455.5" cy="980.9" r="5.6" fill="url(#gd)"/>
<circle cx="449.7" cy="991.2" r="5.6" fill="url(#gd)"/>
<circle cx="460.4" cy="998.7" r="5.6" fill="url(#gd)"/>
<circle cx="455.2" cy="1006.9" r="5.6" fill="url(#gd)"/>
<circle cx="458.7" cy="988.5" r="5.6" fill="url(#gd)"/>
<circle cx="467.9" cy="984.5" r="5.6" fill="url(#gd)"/>
<circle cx="475.1" cy="992.6" r="5.6" fill="url(#gd)"/>
<circle cx="485.6" cy="986.2" r="5.6" fill="url(#gd)"/>
<circle cx="494.6" cy="990.0" r="5.6" fill="url(#gd)"/>
<circle cx="498.9" cy="983.2" r="5.6" fill="url(#gd)"/>
<g filter="url(#blur3)" opacity="0.8"><path d="M138.1,756.3 L138.1,756.6 L138.1,757.0 L138.1,757.4 L138.1,757.8 L138.1,758.3 L138.1,758.8 L138.2,759.3 L138.2,759.8 L138.2,760.4 L138.2,760.9 L138.2,761.5 L138.2,762.2 L138.2,762.8 L138.2,763.5 L138.2,764.1 L138.2,764.8 L138.2,765.5 L138.2,766.3 L138.2,767.0 L138.3,767.7 L138.3,768.5 L138.3,769.2 L138.3,770.0 L138.3,770.8 L138.3,771.6 L138.3,772.4 L138.3,773.1 L138.4,773.9 L138.4,774.7 L138.4,775.5 L138.4,776.3 L138.4,777.1 L138.5,777.9 L138.5,778.7 L138.5,779.4 L138.5,780.2 L138.5,781.0 L138.6,781.7 L138.6,782.5 L138.6,783.2 L138.7,783.9 L138.7,784.7 L138.7,785.4 L138.8,786.0 L138.8,786.7 L138.8,787.4 L138.9,788.1 L138.9,788.9 L139.0,789.6 L139.0,790.3 L139.1,791.1 L139.1,791.8 L139.2,792.6 L139.2,793.3 L139.3,794.0 L139.3,794.7 L139.4,795.5 L139.4,796.2 L139.5,796.9 L139.6,797.6 L139.6,798.4 L139.7,799.1 L139.7,799.8 L139.8,800.5 L139.9,801.2 L139.9,801.9 L140.0,802.6 L140.1,803.3 L140.2,804.0 L140.3,804.7 L140.3,805.4 L140.4,806.1 L140.5,806.7 L140.6,807.4 L140.7,808.1 L140.8,808.8 L140.9,809.4 L141.0,810.1 L141.1,810.8 L141.2,811.4 L141.3,812.1 L141.4,812.7 L141.6,813.4 L141.7,814.0 L141.9,814.9 L142.0,815.7 L142.2,816.5 L142.4,817.3 L142.5,818.1 L142.7,818.8 L142.9,819.6 L143.1,820.4 L143.3,821.2 L143.5,821.9 L143.7,822.7 L143.9,823.5 L144.2,824.2 L144.4,825.0 L144.7,825.7 L144.9,826.4 L145.2,827.2 L145.4,827.9 L145.7,828.7 L146.0,829.4 L146.3,830.1 L146.6,830.8 L146.9,831.5 L147.3,832.3 L147.6,833.0 L148.0,833.7 L148.4,834.4 L148.8,835.2 L149.3,836.0 L149.9,836.9 L150.5,837.7 L151.1,838.6 L151.7,839.3 L152.3,840.0 L152.9,840.7 L153.5,841.4 L154.1,842.0 L154.6,842.6 L155.2,843.1 L155.8,843.7 L156.3,844.2 L156.8,844.6 L157.3,845.1 L157.7,845.6 L158.2,846.0 L158.6,846.4 L159.0,846.8 L159.3,847.1 L159.7,847.5 L160.0,847.8 L160.3,848.2 L160.6,848.5 L160.9,848.9 L161.2,849.4 L161.6,849.8 L161.9,850.4 L162.3,850.9 L162.7,851.3 L163.0,851.8 L163.4,852.3 L163.7,852.8 L164.1,853.3 L164.4,853.8 L164.8,854.3 L165.1,854.8 L165.4,855.3 L165.7,855.8 L166.1,856.3 L166.4,856.8 L166.7,857.3 L167.0,857.8 L167.3,858.3 L167.6,858.8 L167.9,859.4 L168.2,859.9 L168.5,860.5 L168.8,861.1 L169.1,861.7 L169.4,862.3 L169.6,862.7 L169.8,863.1 L170.1,863.6 L170.3,864.1 L170.5,864.6 L170.7,865.2 L171.0,865.7 L171.2,866.3 L171.4,866.8 L171.6,867.4 L171.9,868.0 L172.1,868.6 L172.4,869.2 L172.6,869.9 L172.8,870.5 L173.1,871.1 L173.3,871.8 L173.5,872.4 L173.8,873.1 L174.0,873.7 L174.3,874.4 L174.5,875.1 L174.7,875.7 L175.0,876.4 L175.2,877.0 L175.4,877.7 L175.7,878.3 L175.9,879.0 L176.2,879.6 L176.4,880.2 L176.6,880.9 L176.9,881.5 L177.1,882.1 L177.3,882.7 L177.6,883.5 L177.9,884.2 L178.2,884.9 L178.5,885.6 L178.7,886.3 L179.0,886.9 L179.3,887.6 L179.5,888.3 L179.8,888.9 L180.1,889.6 L180.3,890.2 L180.6,890.9 L180.8,891.5 L181.1,892.1 L181.3,892.7 L181.6,893.3 L181.8,893.9 L182.1,894.5 L182.3,895.1 L182.5,895.7 L182.8,896.3 L183.0,896.9 L183.2,897.5 L183.5,898.0 L183.7,898.6 L184.0,899.2 L184.3,900.0 L184.6,900.7 L184.9,901.5 L185.2,902.2 L185.5,902.9 L185.8,903.5 L186.1,904.2 L186.4,904.8 L186.7,905.4 L186.9,906.0 L187.2,906.6 L187.4,907.1 L187.6,907.7 L187.9,908.2 L188.1,908.6 L188.2,909.1 L188.4,909.6 L188.6,910.0 L188.7,910.4 L188.8,910.8 L189.0,911.3 L189.1,911.8 L189.3,912.4 L189.4,912.9 L189.6,913.5 L189.7,913.9 L189.8,914.4 L189.9,914.8 L190.0,915.2 L190.0,915.6 L190.1,916.0 L190.2,916.4 L190.2,916.8 L190.2,917.2 L190.3,917.7 L190.3,918.3 L190.3,918.8 L190.4,919.5 L190.4,920.2 L190.4,920.6 L190.4,921.1 L190.3,921.5 L190.3,922.0 L190.3,922.6 L190.3,923.1 L190.3,923.7 L190.2,924.2 L190.2,924.8 L190.1,925.4 L190.1,926.1 L190.0,926.7 L190.0,927.3 L189.9,928.0 L189.9,928.6 L189.8,929.3 L189.7,930.0 L189.7,930.6 L189.6,931.3 L189.5,932.0 L189.4,932.7 L189.4,933.4 L189.3,934.1 L189.2,934.8 L189.1,935.5 L189.0,936.2 L188.9,936.9 L188.9,937.5 L188.8,938.2 L188.7,938.8 L188.6,939.4 L188.5,940.0 L188.4,940.6 L188.3,941.1 L188.2,941.8 L188.1,942.4 L188.0,943.0 L187.9,943.6 L187.8,944.2 L187.7,944.9 L187.6,945.5 L187.5,946.1 L187.3,946.8 L187.2,947.4 L187.1,948.1 L187.0,948.8 L186.8,949.4 L186.7,950.1 L186.6,950.8 L186.5,951.4 L186.3,952.1 L186.2,952.8 L186.1,953.5 L186.0,954.2 L185.8,954.9 L185.7,955.6 L185.6,956.2 L185.5,956.9 L185.3,957.6 L185.2,958.3 L185.1,959.0 L185.0,959.7 L184.9,960.3 L184.8,960.9 L184.7,961.5 L184.6,962.1 L184.5,962.7 L184.4,963.3 L184.3,963.9 L184.1,964.5 L184.0,965.2 L183.9,965.8 L183.8,966.4 L183.7,967.0 L183.6,967.7 L183.5,968.3 L183.3,969.0 L183.2,969.7 L183.1,970.4 L183.0,971.0 L182.9,971.7 L182.8,972.5 L182.7,973.2 L182.6,973.9 L182.5,974.7 L182.4,975.4 L182.3,976.2 L182.2,977.0 L182.1,977.8 L182.0,978.6 L181.9,979.5 L181.9,980.3 L181.8,981.2 L181.8,981.8 L181.7,982.5 L181.7,983.2 L181.6,983.9 L181.6,984.6 L181.6,985.3 L181.5,986.1 L181.5,986.8 L181.5,987.6 L181.4,988.3 L181.4,989.1 L181.4,989.9 L181.4,990.7 L181.3,991.5 L181.3,992.3 L181.3,993.1 L181.3,993.9 L181.3,994.7 L181.2,995.5 L181.2,996.3 L181.2,997.1 L181.2,997.8 L181.2,998.6 L181.2,999.4 L181.2,1000.2 L181.1,1000.9 L181.1,1001.7 L181.1,1002.4 L181.1,1003.2 L181.1,1003.9 L181.1,1004.6 L181.1,1005.2 L181.1,1005.9 L181.1,1006.5 L181.1,1007.2 L181.1,1007.7 L181.1,1008.3 L181.1,1008.9 L181.0,1009.4 L181.0,1009.9 L181.0,1010.3 L181.0,1010.8 L181.0,1011.1 L181.0,1011.5 L181.0,1011.8 L205.0,1012.2 L205.0,1011.8 L205.0,1011.4 L205.0,1011.0 L205.0,1010.5 L205.0,1010.0 L205.0,1009.5 L205.0,1009.0 L205.0,1008.4 L205.0,1007.8 L205.0,1007.2 L205.0,1006.6 L205.0,1005.9 L205.0,1005.3 L205.0,1004.6 L205.0,1003.9 L205.0,1003.2 L205.0,1002.5 L204.9,1001.8 L204.9,1001.0 L204.9,1000.3 L204.9,999.6 L204.9,998.8 L204.9,998.0 L204.9,997.3 L204.9,996.5 L204.9,995.7 L204.9,995.0 L204.9,994.2 L204.9,993.4 L204.9,992.7 L205.0,991.9 L205.0,991.2 L205.0,990.4 L205.0,989.7 L205.0,989.0 L205.0,988.3 L205.0,987.6 L205.0,986.9 L205.1,986.2 L205.1,985.6 L205.1,985.0 L205.1,984.4 L205.1,983.8 L205.2,983.3 L205.2,982.8 L205.2,982.1 L205.3,981.4 L205.3,980.7 L205.4,980.0 L205.5,979.4 L205.5,978.7 L205.6,978.1 L205.6,977.5 L205.7,976.9 L205.8,976.3 L205.9,975.7 L205.9,975.1 L206.0,974.5 L206.1,973.9 L206.2,973.3 L206.3,972.7 L206.4,972.1 L206.5,971.5 L206.6,970.9 L206.7,970.3 L206.8,969.7 L206.9,969.1 L207.0,968.5 L207.1,967.9 L207.2,967.2 L207.3,966.6 L207.4,965.9 L207.5,965.3 L207.6,964.6 L207.7,963.9 L207.8,963.3 L207.9,962.6 L208.0,961.9 L208.1,961.3 L208.2,960.7 L208.3,960.0 L208.4,959.4 L208.5,958.7 L208.6,958.1 L208.7,957.4 L208.8,956.8 L208.9,956.1 L209.0,955.5 L209.1,954.8 L209.2,954.1 L209.4,953.5 L209.5,952.8 L209.6,952.1 L209.7,951.4 L209.8,950.7 L209.9,950.1 L210.0,949.4 L210.2,948.7 L210.3,948.0 L210.4,947.3 L210.5,946.6 L210.6,945.9 L210.7,945.2 L210.8,944.5 L210.9,943.8 L211.0,943.1 L211.1,942.4 L211.2,941.7 L211.2,941.0 L211.3,940.3 L211.4,939.5 L211.5,938.8 L211.6,938.0 L211.6,937.3 L211.7,936.5 L211.8,935.8 L211.9,935.0 L211.9,934.3 L212.0,933.5 L212.1,932.8 L212.1,932.0 L212.2,931.3 L212.3,930.5 L212.3,929.8 L212.4,929.0 L212.4,928.3 L212.5,927.6 L212.5,926.8 L212.5,926.1 L212.6,925.4 L212.6,924.7 L212.6,924.0 L212.6,923.2 L212.6,922.6 L212.7,921.9 L212.7,921.2 L212.7,920.5 L212.6,919.8 L212.6,918.8 L212.6,917.8 L212.5,916.9 L212.4,916.0 L212.3,915.1 L212.2,914.2 L212.1,913.3 L212.0,912.4 L211.8,911.6 L211.7,910.8 L211.5,910.0 L211.3,909.2 L211.1,908.5 L210.9,907.7 L210.7,907.0 L210.5,906.3 L210.3,905.5 L210.0,904.7 L209.8,904.0 L209.5,903.2 L209.3,902.5 L209.0,901.7 L208.7,901.0 L208.4,900.3 L208.1,899.6 L207.8,898.9 L207.5,898.2 L207.2,897.6 L206.9,896.9 L206.6,896.3 L206.3,895.7 L206.0,895.0 L205.7,894.4 L205.4,893.8 L205.1,893.2 L204.9,892.6 L204.6,892.0 L204.3,891.4 L204.0,890.8 L203.8,890.2 L203.6,889.7 L203.3,889.1 L203.1,888.6 L202.9,888.0 L202.6,887.4 L202.4,886.8 L202.1,886.2 L201.9,885.7 L201.6,885.1 L201.4,884.5 L201.1,883.9 L200.8,883.2 L200.6,882.6 L200.3,882.0 L200.1,881.4 L199.8,880.7 L199.5,880.1 L199.2,879.4 L199.0,878.8 L198.7,878.1 L198.4,877.5 L198.1,876.8 L197.8,876.1 L197.5,875.4 L197.3,874.7 L197.0,874.2 L196.8,873.6 L196.6,873.1 L196.4,872.5 L196.2,872.0 L195.9,871.4 L195.7,870.8 L195.5,870.2 L195.2,869.5 L195.0,868.9 L194.7,868.3 L194.5,867.6 L194.2,866.9 L194.0,866.3 L193.7,865.6 L193.4,864.9 L193.2,864.2 L192.9,863.6 L192.6,862.9 L192.4,862.2 L192.1,861.5 L191.8,860.8 L191.5,860.1 L191.3,859.4 L191.0,858.8 L190.7,858.1 L190.4,857.4 L190.1,856.7 L189.8,856.0 L189.5,855.4 L189.2,854.7 L188.8,854.1 L188.5,853.4 L188.2,852.7 L187.8,852.0 L187.4,851.2 L187.0,850.5 L186.5,849.7 L186.1,849.0 L185.7,848.3 L185.3,847.6 L184.9,846.9 L184.4,846.2 L184.0,845.6 L183.6,844.9 L183.2,844.3 L182.7,843.6 L182.3,843.0 L181.9,842.4 L181.5,841.8 L181.0,841.2 L180.6,840.6 L180.2,840.1 L179.8,839.5 L179.3,838.9 L178.9,838.4 L178.5,837.8 L178.1,837.3 L177.6,836.7 L177.1,836.1 L176.6,835.4 L176.0,834.7 L175.3,834.0 L174.7,833.3 L174.1,832.7 L173.5,832.1 L173.0,831.6 L172.4,831.0 L171.8,830.5 L171.3,830.1 L170.8,829.6 L170.3,829.2 L169.9,828.7 L169.5,828.4 L169.1,828.0 L168.7,827.6 L168.3,827.3 L168.0,826.9 L167.7,826.6 L167.5,826.3 L167.2,826.0 L167.0,825.7 L166.8,825.5 L166.6,825.2 L166.4,824.8 L166.2,824.5 L166.0,824.1 L165.8,823.7 L165.6,823.3 L165.3,822.9 L165.1,822.5 L164.9,822.0 L164.7,821.6 L164.6,821.1 L164.4,820.6 L164.2,820.2 L164.0,819.7 L163.8,819.2 L163.6,818.6 L163.5,818.1 L163.3,817.6 L163.1,817.0 L162.9,816.4 L162.8,815.9 L162.6,815.3 L162.4,814.7 L162.3,814.0 L162.1,813.4 L161.9,812.7 L161.8,812.1 L161.6,811.4 L161.5,810.7 L161.3,810.0 L161.2,809.5 L161.1,809.0 L161.0,808.4 L160.9,807.9 L160.8,807.4 L160.7,806.8 L160.6,806.3 L160.5,805.7 L160.4,805.1 L160.3,804.6 L160.2,804.0 L160.1,803.4 L160.1,802.8 L160.0,802.2 L159.9,801.6 L159.8,801.0 L159.7,800.4 L159.7,799.7 L159.6,799.1 L159.5,798.4 L159.4,797.8 L159.4,797.1 L159.3,796.5 L159.2,795.8 L159.2,795.2 L159.1,794.5 L159.0,793.8 L159.0,793.1 L158.9,792.4 L158.8,791.7 L158.8,791.0 L158.7,790.3 L158.7,789.6 L158.6,788.9 L158.5,788.2 L158.5,787.5 L158.4,786.7 L158.4,786.0 L158.3,785.4 L158.3,784.8 L158.2,784.2 L158.2,783.6 L158.1,782.9 L158.1,782.3 L158.1,781.6 L158.0,780.9 L158.0,780.1 L158.0,779.4 L157.9,778.7 L157.9,777.9 L157.8,777.2 L157.8,776.4 L157.8,775.7 L157.7,774.9 L157.7,774.1 L157.7,773.4 L157.7,772.6 L157.6,771.8 L157.6,771.1 L157.6,770.3 L157.5,769.5 L157.5,768.8 L157.5,768.0 L157.5,767.3 L157.4,766.5 L157.4,765.8 L157.4,765.1 L157.4,764.4 L157.4,763.7 L157.3,763.1 L157.3,762.4 L157.3,761.8 L157.3,761.1 L157.3,760.5 L157.2,759.9 L157.2,759.4 L157.2,758.8 L157.2,758.3 L157.2,757.8 L157.2,757.3 L157.1,756.9 L157.1,756.5 L157.1,756.1 L157.1,755.7 Z" fill="#d22cb8"/><path d="M176,1008 L211,1008 L194,1050 Z" fill="#d22cb8"/></g>
<g filter="url(#blur1)" opacity="0.9"><path d="M140.4,756.2 L140.4,756.6 L140.4,756.9 L140.4,757.3 L140.4,757.8 L140.4,758.2 L140.4,758.7 L140.4,759.2 L140.4,759.7 L140.4,760.3 L140.4,760.9 L140.4,761.5 L140.4,762.1 L140.4,762.8 L140.4,763.4 L140.4,764.1 L140.5,764.8 L140.5,765.5 L140.5,766.2 L140.5,766.9 L140.5,767.7 L140.5,768.4 L140.5,769.2 L140.5,770.0 L140.5,770.7 L140.5,771.5 L140.6,772.3 L140.6,773.1 L140.6,773.9 L140.6,774.7 L140.6,775.4 L140.6,776.2 L140.6,777.0 L140.7,777.8 L140.7,778.6 L140.7,779.4 L140.7,780.1 L140.8,780.9 L140.8,781.6 L140.8,782.4 L140.8,783.1 L140.9,783.8 L140.9,784.5 L140.9,785.2 L141.0,785.9 L141.0,786.6 L141.0,787.2 L141.1,788.0 L141.1,788.7 L141.2,789.5 L141.2,790.2 L141.3,790.9 L141.3,791.7 L141.3,792.4 L141.4,793.1 L141.4,793.8 L141.5,794.6 L141.6,795.3 L141.6,796.0 L141.7,796.7 L141.7,797.4 L141.8,798.2 L141.8,798.9 L141.9,799.6 L142.0,800.3 L142.0,801.0 L142.1,801.7 L142.2,802.4 L142.2,803.0 L142.3,803.7 L142.4,804.4 L142.5,805.1 L142.6,805.8 L142.6,806.4 L142.7,807.1 L142.8,807.8 L142.9,808.4 L143.0,809.1 L143.1,809.8 L143.2,810.4 L143.3,811.1 L143.4,811.7 L143.5,812.3 L143.7,813.0 L143.8,813.6 L144.0,814.4 L144.1,815.2 L144.3,816.0 L144.5,816.8 L144.6,817.6 L144.8,818.3 L145.0,819.1 L145.2,819.9 L145.4,820.6 L145.6,821.4 L145.8,822.1 L146.0,822.8 L146.2,823.6 L146.4,824.3 L146.7,825.0 L146.9,825.7 L147.2,826.4 L147.4,827.2 L147.7,827.9 L148.0,828.6 L148.3,829.3 L148.6,830.0 L148.9,830.6 L149.2,831.3 L149.5,832.0 L149.9,832.7 L150.2,833.4 L150.6,834.1 L151.1,834.9 L151.6,835.7 L152.2,836.5 L152.7,837.3 L153.3,838.0 L153.9,838.7 L154.4,839.3 L155.0,839.9 L155.6,840.5 L156.1,841.1 L156.7,841.6 L157.2,842.1 L157.7,842.6 L158.2,843.1 L158.7,843.6 L159.2,844.0 L159.6,844.5 L160.1,844.9 L160.5,845.3 L160.8,845.7 L161.2,846.1 L161.5,846.4 L161.9,846.8 L162.2,847.2 L162.5,847.6 L162.9,848.1 L163.2,848.6 L163.6,849.1 L164.0,849.6 L164.3,850.1 L164.7,850.6 L165.1,851.1 L165.4,851.6 L165.8,852.1 L166.1,852.6 L166.5,853.1 L166.8,853.6 L167.1,854.1 L167.5,854.6 L167.8,855.1 L168.1,855.7 L168.4,856.2 L168.8,856.7 L169.1,857.3 L169.4,857.8 L169.7,858.4 L170.0,858.9 L170.3,859.5 L170.6,860.1 L170.9,860.7 L171.2,861.3 L171.5,861.8 L171.7,862.3 L171.9,862.7 L172.1,863.3 L172.4,863.8 L172.6,864.3 L172.8,864.9 L173.1,865.5 L173.3,866.1 L173.5,866.7 L173.8,867.3 L174.0,867.9 L174.2,868.5 L174.5,869.1 L174.7,869.8 L175.0,870.4 L175.2,871.1 L175.4,871.7 L175.7,872.4 L175.9,873.0 L176.2,873.7 L176.4,874.3 L176.6,875.0 L176.9,875.7 L177.1,876.3 L177.3,877.0 L177.6,877.6 L177.8,878.3 L178.0,878.9 L178.3,879.5 L178.5,880.1 L178.7,880.8 L179.0,881.4 L179.2,882.0 L179.5,882.7 L179.8,883.4 L180.1,884.1 L180.3,884.8 L180.6,885.5 L180.9,886.2 L181.1,886.9 L181.4,887.5 L181.7,888.2 L181.9,888.8 L182.2,889.5 L182.4,890.1 L182.7,890.7 L182.9,891.3 L183.2,892.0 L183.4,892.6 L183.6,893.2 L183.9,893.8 L184.1,894.4 L184.4,895.0 L184.6,895.6 L184.8,896.1 L185.1,896.7 L185.3,897.3 L185.5,897.9 L185.8,898.5 L186.1,899.2 L186.4,899.9 L186.7,900.7 L187.0,901.4 L187.3,902.1 L187.6,902.7 L187.9,903.4 L188.2,904.0 L188.4,904.6 L188.7,905.2 L189.0,905.8 L189.2,906.3 L189.4,906.9 L189.7,907.4 L189.9,907.9 L190.0,908.4 L190.2,908.9 L190.4,909.3 L190.5,909.8 L190.7,910.2 L190.8,910.7 L191.0,911.3 L191.2,911.9 L191.3,912.4 L191.4,913.0 L191.6,913.4 L191.7,913.9 L191.8,914.4 L191.9,914.8 L191.9,915.2 L192.0,915.7 L192.1,916.1 L192.1,916.6 L192.2,917.0 L192.2,917.6 L192.2,918.1 L192.3,918.8 L192.3,919.4 L192.3,920.2 L192.3,920.6 L192.3,921.1 L192.3,921.6 L192.2,922.1 L192.2,922.6 L192.2,923.2 L192.2,923.8 L192.1,924.3 L192.1,924.9 L192.0,925.6 L192.0,926.2 L191.9,926.8 L191.9,927.5 L191.8,928.1 L191.8,928.8 L191.7,929.5 L191.6,930.1 L191.6,930.8 L191.5,931.5 L191.4,932.2 L191.3,932.9 L191.2,933.6 L191.2,934.3 L191.1,935.0 L191.0,935.7 L190.9,936.4 L190.8,937.1 L190.7,937.8 L190.6,938.4 L190.6,939.0 L190.5,939.6 L190.4,940.2 L190.3,940.8 L190.2,941.4 L190.1,942.0 L190.0,942.7 L189.9,943.3 L189.8,943.9 L189.7,944.5 L189.5,945.2 L189.4,945.8 L189.3,946.5 L189.2,947.1 L189.1,947.8 L188.9,948.4 L188.8,949.1 L188.7,949.8 L188.6,950.4 L188.4,951.1 L188.3,951.8 L188.2,952.4 L188.0,953.1 L187.9,953.8 L187.8,954.5 L187.7,955.2 L187.5,955.9 L187.4,956.6 L187.3,957.2 L187.2,957.9 L187.1,958.6 L186.9,959.3 L186.8,959.9 L186.7,960.6 L186.6,961.2 L186.5,961.8 L186.4,962.4 L186.3,963.0 L186.2,963.6 L186.1,964.2 L185.9,964.8 L185.8,965.5 L185.7,966.1 L185.6,966.7 L185.5,967.3 L185.4,968.0 L185.3,968.6 L185.1,969.3 L185.0,970.0 L184.9,970.6 L184.8,971.3 L184.7,972.0 L184.6,972.7 L184.5,973.4 L184.4,974.2 L184.3,974.9 L184.2,975.6 L184.1,976.4 L184.0,977.2 L183.9,978.0 L183.8,978.8 L183.8,979.6 L183.7,980.5 L183.6,981.3 L183.6,982.0 L183.5,982.6 L183.5,983.3 L183.4,984.0 L183.4,984.7 L183.4,985.4 L183.3,986.1 L183.3,986.9 L183.3,987.6 L183.2,988.4 L183.2,989.2 L183.2,989.9 L183.1,990.7 L183.1,991.5 L183.1,992.3 L183.1,993.1 L183.1,993.9 L183.0,994.7 L183.0,995.5 L183.0,996.3 L183.0,997.1 L183.0,997.9 L183.0,998.6 L182.9,999.4 L182.9,1000.2 L182.9,1000.9 L182.9,1001.7 L182.9,1002.4 L182.9,1003.2 L182.9,1003.9 L182.9,1004.6 L182.9,1005.2 L182.8,1005.9 L182.8,1006.5 L182.8,1007.2 L182.8,1007.8 L182.8,1008.3 L182.8,1008.9 L182.8,1009.4 L182.8,1009.9 L182.8,1010.3 L182.8,1010.8 L182.8,1011.2 L182.8,1011.5 L182.8,1011.9 L203.2,1012.1 L203.3,1011.8 L203.3,1011.4 L203.3,1010.9 L203.2,1010.5 L203.2,1010.0 L203.2,1009.5 L203.2,1008.9 L203.2,1008.4 L203.2,1007.8 L203.2,1007.2 L203.2,1006.6 L203.2,1005.9 L203.2,1005.3 L203.2,1004.6 L203.2,1003.9 L203.2,1003.2 L203.2,1002.5 L203.2,1001.8 L203.2,1001.0 L203.2,1000.3 L203.2,999.5 L203.2,998.8 L203.2,998.0 L203.2,997.2 L203.2,996.5 L203.2,995.7 L203.2,994.9 L203.2,994.2 L203.2,993.4 L203.2,992.6 L203.2,991.9 L203.2,991.1 L203.2,990.4 L203.2,989.6 L203.2,988.9 L203.2,988.2 L203.2,987.5 L203.2,986.8 L203.3,986.2 L203.3,985.5 L203.3,984.9 L203.3,984.3 L203.3,983.7 L203.4,983.2 L203.4,982.7 L203.4,982.0 L203.5,981.2 L203.5,980.5 L203.6,979.9 L203.6,979.2 L203.7,978.5 L203.8,977.9 L203.8,977.3 L203.9,976.6 L204.0,976.0 L204.1,975.4 L204.1,974.8 L204.2,974.2 L204.3,973.6 L204.4,973.0 L204.5,972.4 L204.6,971.8 L204.7,971.2 L204.8,970.6 L204.9,970.0 L204.9,969.4 L205.0,968.8 L205.1,968.2 L205.2,967.6 L205.4,966.9 L205.5,966.3 L205.6,965.6 L205.7,965.0 L205.8,964.3 L205.9,963.6 L206.0,963.0 L206.1,962.3 L206.2,961.6 L206.2,961.0 L206.3,960.4 L206.4,959.7 L206.5,959.1 L206.6,958.4 L206.8,957.8 L206.9,957.1 L207.0,956.5 L207.1,955.8 L207.2,955.1 L207.3,954.5 L207.4,953.8 L207.5,953.1 L207.6,952.5 L207.8,951.8 L207.9,951.1 L208.0,950.4 L208.1,949.7 L208.2,949.0 L208.3,948.4 L208.4,947.7 L208.5,947.0 L208.6,946.3 L208.7,945.6 L208.8,944.9 L208.9,944.2 L209.0,943.5 L209.1,942.8 L209.2,942.1 L209.3,941.4 L209.4,940.8 L209.4,940.0 L209.5,939.3 L209.6,938.6 L209.7,937.8 L209.8,937.1 L209.8,936.3 L209.9,935.6 L210.0,934.8 L210.0,934.1 L210.1,933.3 L210.2,932.6 L210.2,931.9 L210.3,931.1 L210.4,930.4 L210.4,929.6 L210.5,928.9 L210.5,928.2 L210.6,927.4 L210.6,926.7 L210.6,926.0 L210.7,925.3 L210.7,924.6 L210.7,923.9 L210.7,923.2 L210.7,922.5 L210.7,921.8 L210.7,921.2 L210.7,920.5 L210.7,919.8 L210.7,918.9 L210.6,917.9 L210.6,917.0 L210.5,916.1 L210.4,915.2 L210.3,914.4 L210.2,913.6 L210.1,912.7 L209.9,911.9 L209.8,911.2 L209.6,910.4 L209.4,909.7 L209.2,908.9 L209.0,908.2 L208.8,907.5 L208.6,906.8 L208.4,906.1 L208.2,905.3 L208.0,904.6 L207.7,903.9 L207.4,903.1 L207.2,902.4 L206.9,901.7 L206.6,901.0 L206.3,900.3 L206.0,899.7 L205.7,899.0 L205.4,898.4 L205.1,897.7 L204.8,897.1 L204.5,896.5 L204.2,895.9 L203.9,895.2 L203.6,894.6 L203.3,894.0 L203.1,893.4 L202.8,892.8 L202.5,892.2 L202.2,891.5 L202.0,891.0 L201.8,890.4 L201.5,889.9 L201.3,889.3 L201.0,888.7 L200.8,888.2 L200.5,887.6 L200.3,887.0 L200.0,886.4 L199.8,885.8 L199.5,885.2 L199.3,884.6 L199.0,884.0 L198.7,883.4 L198.5,882.8 L198.2,882.1 L197.9,881.5 L197.7,880.9 L197.4,880.2 L197.1,879.5 L196.8,878.9 L196.6,878.2 L196.3,877.5 L196.0,876.8 L195.7,876.1 L195.4,875.4 L195.2,874.9 L195.0,874.4 L194.7,873.8 L194.5,873.3 L194.3,872.7 L194.0,872.1 L193.8,871.5 L193.6,870.9 L193.3,870.2 L193.1,869.6 L192.8,869.0 L192.6,868.3 L192.3,867.7 L192.1,867.0 L191.8,866.3 L191.6,865.6 L191.3,865.0 L191.0,864.3 L190.8,863.6 L190.5,862.9 L190.2,862.2 L189.9,861.6 L189.6,860.9 L189.4,860.2 L189.1,859.5 L188.8,858.9 L188.5,858.2 L188.2,857.5 L187.9,856.9 L187.6,856.2 L187.3,855.6 L187.0,854.9 L186.7,854.3 L186.4,853.7 L186.0,852.9 L185.6,852.2 L185.2,851.4 L184.8,850.7 L184.3,850.0 L183.9,849.3 L183.5,848.6 L183.1,848.0 L182.7,847.3 L182.3,846.7 L181.9,846.0 L181.5,845.4 L181.0,844.8 L180.6,844.2 L180.2,843.6 L179.8,843.0 L179.4,842.4 L178.9,841.8 L178.5,841.3 L178.1,840.7 L177.7,840.2 L177.2,839.6 L176.8,839.1 L176.4,838.5 L176.0,838.0 L175.5,837.4 L175.0,836.7 L174.4,836.0 L173.8,835.4 L173.2,834.8 L172.6,834.2 L172.1,833.6 L171.5,833.1 L170.9,832.6 L170.4,832.1 L169.9,831.6 L169.4,831.1 L168.9,830.7 L168.4,830.3 L168.0,829.9 L167.6,829.5 L167.2,829.1 L166.8,828.7 L166.5,828.3 L166.1,828.0 L165.8,827.6 L165.6,827.3 L165.3,827.0 L165.1,826.6 L164.8,826.3 L164.6,825.9 L164.4,825.5 L164.1,825.1 L163.9,824.7 L163.7,824.2 L163.4,823.8 L163.2,823.3 L163.0,822.9 L162.8,822.4 L162.6,821.9 L162.4,821.4 L162.2,820.9 L162.0,820.4 L161.8,819.8 L161.6,819.3 L161.4,818.8 L161.2,818.2 L161.1,817.6 L160.9,817.0 L160.7,816.4 L160.5,815.8 L160.4,815.2 L160.2,814.5 L160.0,813.9 L159.9,813.2 L159.7,812.5 L159.5,811.8 L159.4,811.1 L159.2,810.4 L159.1,809.9 L159.0,809.4 L158.9,808.8 L158.8,808.3 L158.7,807.7 L158.6,807.2 L158.5,806.6 L158.4,806.0 L158.3,805.5 L158.2,804.9 L158.1,804.3 L158.0,803.7 L157.9,803.1 L157.8,802.5 L157.7,801.9 L157.7,801.2 L157.6,800.6 L157.5,800.0 L157.4,799.3 L157.4,798.7 L157.3,798.0 L157.2,797.4 L157.1,796.7 L157.1,796.0 L157.0,795.3 L156.9,794.7 L156.9,794.0 L156.8,793.3 L156.7,792.6 L156.7,791.9 L156.6,791.2 L156.5,790.5 L156.5,789.8 L156.4,789.1 L156.4,788.3 L156.3,787.6 L156.2,786.9 L156.2,786.2 L156.1,785.6 L156.1,785.0 L156.0,784.4 L156.0,783.7 L155.9,783.0 L155.9,782.4 L155.9,781.7 L155.8,781.0 L155.8,780.2 L155.7,779.5 L155.7,778.8 L155.7,778.0 L155.6,777.3 L155.6,776.5 L155.6,775.7 L155.5,775.0 L155.5,774.2 L155.5,773.4 L155.4,772.7 L155.4,771.9 L155.4,771.1 L155.3,770.3 L155.3,769.6 L155.3,768.8 L155.3,768.1 L155.2,767.3 L155.2,766.6 L155.2,765.9 L155.2,765.2 L155.1,764.5 L155.1,763.8 L155.1,763.1 L155.1,762.4 L155.1,761.8 L155.0,761.2 L155.0,760.6 L155.0,760.0 L155.0,759.4 L155.0,758.9 L154.9,758.4 L154.9,757.9 L154.9,757.4 L154.9,756.9 L154.9,756.5 L154.9,756.1 L154.8,755.8 Z" fill="#b4109e"/><path d="M178.5,1010.5 L209.5,1010.5 L194,1045 Z" fill="#b4109e" stroke="#b4109e" stroke-width="4"/></g>
<path d="M142.7,756.1 L142.7,756.5 L142.7,756.9 L142.7,757.3 L142.7,757.7 L142.7,758.2 L142.7,758.6 L142.7,759.2 L142.8,759.7 L142.8,760.3 L142.8,760.8 L142.8,761.4 L142.8,762.1 L142.8,762.7 L142.8,763.4 L142.8,764.0 L142.8,764.7 L142.8,765.4 L142.8,766.2 L142.8,766.9 L142.8,767.6 L142.9,768.4 L142.9,769.1 L142.9,769.9 L142.9,770.7 L142.9,771.4 L142.9,772.2 L142.9,773.0 L142.9,773.8 L143.0,774.6 L143.0,775.4 L143.0,776.2 L143.0,776.9 L143.0,777.7 L143.1,778.5 L143.1,779.3 L143.1,780.0 L143.1,780.8 L143.2,781.5 L143.2,782.3 L143.2,783.0 L143.2,783.7 L143.3,784.4 L143.3,785.1 L143.3,785.8 L143.4,786.4 L143.4,787.1 L143.4,787.8 L143.5,788.5 L143.5,789.3 L143.6,790.0 L143.6,790.7 L143.7,791.5 L143.7,792.2 L143.8,792.9 L143.8,793.6 L143.9,794.4 L143.9,795.1 L144.0,795.8 L144.0,796.5 L144.1,797.2 L144.2,797.9 L144.2,798.6 L144.3,799.3 L144.4,800.0 L144.4,800.7 L144.5,801.4 L144.6,802.1 L144.6,802.8 L144.7,803.4 L144.8,804.1 L144.9,804.8 L144.9,805.5 L145.0,806.1 L145.1,806.8 L145.2,807.4 L145.3,808.1 L145.4,808.7 L145.5,809.4 L145.6,810.0 L145.7,810.6 L145.8,811.3 L145.9,811.9 L146.0,812.5 L146.2,813.1 L146.3,813.9 L146.5,814.7 L146.6,815.5 L146.8,816.2 L147.0,817.0 L147.2,817.8 L147.3,818.5 L147.5,819.2 L147.7,820.0 L147.9,820.7 L148.1,821.4 L148.3,822.1 L148.5,822.8 L148.7,823.5 L149.0,824.2 L149.2,824.9 L149.4,825.6 L149.7,826.3 L149.9,827.0 L150.2,827.6 L150.5,828.3 L150.8,829.0 L151.1,829.6 L151.4,830.3 L151.7,830.9 L152.0,831.5 L152.4,832.2 L152.7,832.9 L153.2,833.6 L153.6,834.4 L154.1,835.1 L154.7,835.8 L155.2,836.4 L155.7,837.1 L156.2,837.7 L156.8,838.3 L157.3,838.8 L157.8,839.3 L158.4,839.9 L158.9,840.4 L159.4,840.9 L159.9,841.3 L160.4,841.8 L160.8,842.2 L161.3,842.7 L161.8,843.1 L162.2,843.5 L162.6,844.0 L163.0,844.4 L163.4,844.8 L163.7,845.2 L164.1,845.7 L164.4,846.1 L164.8,846.6 L165.2,847.1 L165.6,847.6 L165.9,848.1 L166.3,848.6 L166.7,849.1 L167.0,849.7 L167.4,850.2 L167.8,850.7 L168.1,851.2 L168.5,851.7 L168.8,852.2 L169.2,852.7 L169.5,853.3 L169.9,853.8 L170.2,854.3 L170.5,854.9 L170.9,855.4 L171.2,856.0 L171.5,856.6 L171.8,857.1 L172.2,857.7 L172.5,858.3 L172.8,858.9 L173.1,859.6 L173.4,860.2 L173.7,860.7 L173.9,861.2 L174.1,861.7 L174.4,862.2 L174.6,862.8 L174.9,863.3 L175.1,863.9 L175.3,864.5 L175.6,865.1 L175.8,865.7 L176.1,866.3 L176.3,867.0 L176.6,867.6 L176.8,868.2 L177.0,868.9 L177.3,869.5 L177.5,870.2 L177.8,870.8 L178.0,871.5 L178.2,872.2 L178.5,872.8 L178.7,873.5 L179.0,874.1 L179.2,874.8 L179.4,875.4 L179.7,876.1 L179.9,876.7 L180.1,877.4 L180.4,878.0 L180.6,878.6 L180.8,879.2 L181.1,879.9 L181.3,880.5 L181.5,881.0 L181.8,881.8 L182.1,882.5 L182.4,883.2 L182.6,883.9 L182.9,884.6 L183.2,885.2 L183.4,885.9 L183.7,886.6 L184.0,887.2 L184.2,887.9 L184.5,888.5 L184.7,889.1 L185.0,889.8 L185.2,890.4 L185.5,891.0 L185.7,891.6 L186.0,892.2 L186.2,892.8 L186.4,893.4 L186.7,894.0 L186.9,894.6 L187.2,895.2 L187.4,895.7 L187.6,896.3 L187.9,896.9 L188.1,897.5 L188.4,898.2 L188.7,898.9 L189.0,899.6 L189.3,900.3 L189.6,901.0 L189.9,901.7 L190.2,902.3 L190.5,902.9 L190.7,903.6 L191.0,904.2 L191.3,904.7 L191.5,905.3 L191.8,905.9 L192.0,906.4 L192.2,906.9 L192.4,907.5 L192.6,908.0 L192.8,908.5 L192.9,908.9 L193.1,909.4 L193.2,909.9 L193.4,910.5 L193.6,911.2 L193.7,911.7 L193.9,912.3 L194.0,912.8 L194.1,913.3 L194.3,913.8 L194.4,914.3 L194.4,914.8 L194.5,915.3 L194.6,915.7 L194.6,916.3 L194.7,916.8 L194.7,917.4 L194.8,918.0 L194.8,918.6 L194.8,919.4 L194.8,920.1 L194.8,920.6 L194.8,921.1 L194.8,921.6 L194.8,922.2 L194.8,922.7 L194.7,923.3 L194.7,923.9 L194.7,924.5 L194.6,925.1 L194.6,925.7 L194.6,926.4 L194.5,927.0 L194.4,927.7 L194.4,928.3 L194.3,929.0 L194.3,929.7 L194.2,930.4 L194.1,931.1 L194.0,931.8 L194.0,932.5 L193.9,933.2 L193.8,933.9 L193.7,934.6 L193.6,935.3 L193.5,936.0 L193.5,936.7 L193.4,937.4 L193.3,938.1 L193.2,938.8 L193.1,939.4 L193.0,940.0 L192.9,940.6 L192.8,941.2 L192.7,941.8 L192.6,942.4 L192.5,943.1 L192.4,943.7 L192.3,944.3 L192.2,945.0 L192.1,945.6 L192.0,946.3 L191.8,946.9 L191.7,947.6 L191.6,948.2 L191.5,948.9 L191.4,949.5 L191.2,950.2 L191.1,950.9 L191.0,951.5 L190.8,952.2 L190.7,952.9 L190.6,953.6 L190.5,954.2 L190.3,954.9 L190.2,955.6 L190.1,956.3 L190.0,957.0 L189.8,957.7 L189.7,958.4 L189.6,959.0 L189.5,959.7 L189.4,960.4 L189.3,961.0 L189.2,961.6 L189.1,962.2 L189.0,962.8 L188.8,963.4 L188.7,964.1 L188.6,964.7 L188.5,965.3 L188.4,965.9 L188.3,966.5 L188.2,967.2 L188.1,967.8 L187.9,968.4 L187.8,969.1 L187.7,969.7 L187.6,970.4 L187.5,971.0 L187.4,971.7 L187.3,972.4 L187.2,973.1 L187.1,973.8 L187.0,974.5 L186.9,975.2 L186.8,975.9 L186.7,976.7 L186.6,977.5 L186.5,978.2 L186.4,979.0 L186.4,979.8 L186.3,980.7 L186.2,981.5 L186.2,982.1 L186.1,982.8 L186.1,983.4 L186.0,984.1 L186.0,984.8 L186.0,985.5 L185.9,986.2 L185.9,987.0 L185.9,987.7 L185.8,988.5 L185.8,989.2 L185.8,990.0 L185.8,990.8 L185.7,991.5 L185.7,992.3 L185.7,993.1 L185.7,993.9 L185.7,994.7 L185.7,995.5 L185.6,996.3 L185.6,997.1 L185.6,997.9 L185.6,998.7 L185.6,999.4 L185.6,1000.2 L185.6,1001.0 L185.5,1001.7 L185.5,1002.4 L185.5,1003.2 L185.5,1003.9 L185.5,1004.6 L185.5,1005.2 L185.5,1005.9 L185.5,1006.5 L185.5,1007.2 L185.5,1007.8 L185.5,1008.3 L185.5,1008.9 L185.4,1009.4 L185.4,1009.9 L185.4,1010.4 L185.4,1010.8 L185.4,1011.2 L185.4,1011.6 L185.4,1011.9 L200.6,1012.1 L200.6,1011.7 L200.6,1011.3 L200.6,1010.9 L200.6,1010.5 L200.6,1010.0 L200.6,1009.5 L200.6,1008.9 L200.6,1008.4 L200.6,1007.8 L200.6,1007.2 L200.6,1006.6 L200.6,1005.9 L200.6,1005.3 L200.6,1004.6 L200.6,1003.9 L200.6,1003.2 L200.5,1002.5 L200.5,1001.8 L200.5,1001.0 L200.5,1000.3 L200.5,999.5 L200.5,998.8 L200.5,998.0 L200.5,997.2 L200.5,996.4 L200.5,995.7 L200.5,994.9 L200.5,994.1 L200.5,993.4 L200.5,992.6 L200.5,991.8 L200.5,991.1 L200.6,990.3 L200.6,989.6 L200.6,988.9 L200.6,988.1 L200.6,987.4 L200.6,986.7 L200.6,986.1 L200.7,985.4 L200.7,984.8 L200.7,984.2 L200.7,983.6 L200.8,983.0 L200.8,982.5 L200.8,981.8 L200.9,981.0 L200.9,980.3 L201.0,979.6 L201.0,978.9 L201.1,978.3 L201.2,977.6 L201.2,977.0 L201.3,976.3 L201.4,975.7 L201.5,975.1 L201.6,974.4 L201.6,973.8 L201.7,973.2 L201.8,972.6 L201.9,972.0 L202.0,971.4 L202.1,970.8 L202.2,970.2 L202.3,969.6 L202.4,969.0 L202.5,968.3 L202.6,967.7 L202.7,967.1 L202.8,966.5 L202.9,965.8 L203.0,965.2 L203.1,964.6 L203.2,963.9 L203.3,963.2 L203.4,962.6 L203.5,961.9 L203.6,961.2 L203.7,960.6 L203.8,959.9 L203.9,959.3 L204.0,958.6 L204.1,958.0 L204.2,957.3 L204.3,956.7 L204.4,956.0 L204.5,955.3 L204.6,954.7 L204.8,954.0 L204.9,953.3 L205.0,952.7 L205.1,952.0 L205.2,951.3 L205.3,950.6 L205.4,950.0 L205.5,949.3 L205.7,948.6 L205.8,947.9 L205.9,947.2 L206.0,946.6 L206.1,945.9 L206.2,945.2 L206.3,944.5 L206.4,943.8 L206.5,943.2 L206.6,942.5 L206.7,941.8 L206.7,941.1 L206.8,940.4 L206.9,939.7 L207.0,939.0 L207.1,938.3 L207.1,937.5 L207.2,936.8 L207.3,936.1 L207.4,935.3 L207.4,934.6 L207.5,933.8 L207.6,933.1 L207.6,932.4 L207.7,931.6 L207.8,930.9 L207.8,930.1 L207.9,929.4 L207.9,928.7 L208.0,928.0 L208.0,927.3 L208.0,926.6 L208.1,925.8 L208.1,925.2 L208.1,924.5 L208.2,923.8 L208.2,923.1 L208.2,922.5 L208.2,921.8 L208.2,921.2 L208.2,920.5 L208.2,919.9 L208.1,918.9 L208.1,918.0 L208.0,917.2 L208.0,916.3 L207.9,915.5 L207.8,914.7 L207.7,913.9 L207.6,913.1 L207.4,912.4 L207.3,911.7 L207.1,911.0 L207.0,910.3 L206.8,909.6 L206.6,908.9 L206.4,908.2 L206.2,907.5 L206.0,906.8 L205.8,906.1 L205.5,905.4 L205.3,904.7 L205.0,904.0 L204.8,903.3 L204.5,902.6 L204.2,902.0 L204.0,901.3 L203.7,900.7 L203.4,900.0 L203.1,899.4 L202.8,898.8 L202.5,898.2 L202.2,897.5 L201.9,896.9 L201.6,896.3 L201.3,895.7 L201.0,895.1 L200.8,894.4 L200.5,893.8 L200.2,893.2 L199.9,892.5 L199.7,892.0 L199.4,891.4 L199.2,890.8 L198.9,890.3 L198.7,889.7 L198.5,889.1 L198.2,888.5 L198.0,888.0 L197.7,887.4 L197.5,886.8 L197.2,886.2 L196.9,885.6 L196.7,885.0 L196.4,884.3 L196.2,883.7 L195.9,883.1 L195.6,882.4 L195.4,881.8 L195.1,881.2 L194.8,880.5 L194.5,879.8 L194.2,879.1 L194.0,878.5 L193.7,877.8 L193.4,877.1 L193.1,876.4 L192.9,875.8 L192.6,875.3 L192.4,874.7 L192.2,874.2 L192.0,873.6 L191.7,873.0 L191.5,872.4 L191.2,871.7 L191.0,871.1 L190.7,870.5 L190.5,869.8 L190.3,869.2 L190.0,868.5 L189.7,867.9 L189.5,867.2 L189.2,866.5 L189.0,865.8 L188.7,865.2 L188.4,864.5 L188.2,863.8 L187.9,863.2 L187.6,862.5 L187.3,861.8 L187.1,861.1 L186.8,860.5 L186.5,859.8 L186.2,859.2 L185.9,858.5 L185.7,857.9 L185.4,857.2 L185.1,856.6 L184.8,856.0 L184.5,855.4 L184.2,854.8 L183.8,854.0 L183.4,853.3 L183.0,852.6 L182.6,851.9 L182.2,851.2 L181.8,850.6 L181.4,849.9 L181.0,849.3 L180.6,848.6 L180.2,848.0 L179.8,847.4 L179.4,846.8 L179.0,846.2 L178.6,845.6 L178.2,845.0 L177.8,844.4 L177.4,843.8 L176.9,843.3 L176.5,842.7 L176.1,842.2 L175.7,841.6 L175.3,841.1 L174.9,840.6 L174.4,840.0 L174.0,839.5 L173.6,838.9 L173.1,838.3 L172.5,837.6 L172.0,837.0 L171.4,836.4 L170.9,835.9 L170.3,835.3 L169.8,834.8 L169.3,834.3 L168.7,833.8 L168.2,833.4 L167.7,832.9 L167.2,832.5 L166.8,832.0 L166.3,831.6 L165.9,831.2 L165.5,830.8 L165.1,830.4 L164.7,830.0 L164.3,829.6 L164.0,829.2 L163.6,828.8 L163.3,828.4 L163.0,828.0 L162.8,827.6 L162.5,827.1 L162.2,826.7 L162.0,826.3 L161.7,825.8 L161.5,825.3 L161.2,824.8 L161.0,824.3 L160.8,823.8 L160.5,823.3 L160.3,822.8 L160.1,822.3 L159.9,821.7 L159.7,821.2 L159.5,820.6 L159.3,820.1 L159.1,819.5 L158.9,818.9 L158.7,818.3 L158.6,817.7 L158.4,817.1 L158.2,816.4 L158.0,815.8 L157.8,815.1 L157.7,814.4 L157.5,813.8 L157.3,813.1 L157.2,812.4 L157.0,811.6 L156.8,810.9 L156.7,810.4 L156.6,809.8 L156.5,809.3 L156.4,808.7 L156.3,808.1 L156.2,807.6 L156.1,807.0 L156.0,806.4 L155.9,805.8 L155.8,805.2 L155.7,804.6 L155.6,804.0 L155.5,803.4 L155.4,802.8 L155.4,802.1 L155.3,801.5 L155.2,800.9 L155.1,800.2 L155.0,799.6 L155.0,798.9 L154.9,798.3 L154.8,797.6 L154.7,796.9 L154.7,796.2 L154.6,795.6 L154.5,794.9 L154.5,794.2 L154.4,793.5 L154.3,792.8 L154.3,792.1 L154.2,791.4 L154.2,790.7 L154.1,790.0 L154.0,789.2 L154.0,788.5 L153.9,787.8 L153.9,787.1 L153.8,786.3 L153.7,785.7 L153.7,785.1 L153.7,784.5 L153.6,783.8 L153.6,783.2 L153.5,782.5 L153.5,781.8 L153.4,781.1 L153.4,780.3 L153.4,779.6 L153.3,778.9 L153.3,778.1 L153.3,777.4 L153.2,776.6 L153.2,775.8 L153.2,775.0 L153.1,774.3 L153.1,773.5 L153.1,772.7 L153.0,771.9 L153.0,771.2 L153.0,770.4 L153.0,769.6 L152.9,768.9 L152.9,768.1 L152.9,767.4 L152.9,766.7 L152.8,765.9 L152.8,765.2 L152.8,764.5 L152.8,763.8 L152.7,763.2 L152.7,762.5 L152.7,761.9 L152.7,761.2 L152.7,760.6 L152.6,760.0 L152.6,759.5 L152.6,758.9 L152.6,758.4 L152.6,757.9 L152.6,757.5 L152.5,757.0 L152.5,756.6 L152.5,756.2 L152.5,755.9 Z" fill="#e000b4"/><path d="M178.5,1010.5 L209.5,1010.5 L194,1045 Z" fill="#e000b4"/>
<path d="M545,665.6 H878.4 V1045.2 H545 V822.8 L456.5,810.4 L545,729.6 Z" fill="#fff" stroke="#000" stroke-width="5.6" stroke-linejoin="miter"/>
<text x="0.5" y="646.5" font-size="49.5" text-anchor="start" font-weight="bold" fill="#000" >(d)</text>
<text x="221.3" y="697.7" font-size="49.4" text-anchor="start" font-weight="bold" fill="#000" >CBFE</text>
<text x="129.8" y="734.2" font-size="38" font-weight="bold" fill="#d400aa" stroke="#d400aa" stroke-width="0.9">Li<tspan font-size="24.5" dy="-12.6">+</tspan></text>
<circle cx="628.4" cy="860.1" r="65.5" fill="url(#gs)"/>
<circle cx="745.9" cy="787.4" r="67.0" fill="url(#gs)"/>
<circle cx="720.6" cy="960.1" r="66.5" fill="url(#gs)"/>
<path d="M706.0,722.0 C707.7,725.0 717.0,733.7 716.0,740.0 C715.0,746.3 705.7,753.0 700.0,760.0 C694.3,767.0 686.7,775.3 682.0,782.0 C677.3,788.7 673.7,794.5 672.0,800.0 C670.3,805.5 670.0,809.0 672.0,815.0 C674.0,821.0 678.3,827.8 684.0,836.0 C689.7,844.2 698.3,854.7 706.0,864.0 C713.7,873.3 723.0,883.5 730.0,892.0 C737.0,900.5 743.0,907.0 748.0,915.0 C753.0,923.0 757.5,930.8 760.0,940.0 C762.5,949.2 763.3,960.7 763.0,970.0 C762.7,979.3 760.5,987.7 758.0,996.0 C755.5,1004.3 750.8,1013.3 748.0,1020.0 C745.2,1026.7 742.2,1033.3 741.0,1036.0" fill="none" stroke="#0a86e0" stroke-width="22" stroke-linejoin="round"/>
<path d="M733,1007 L776,1000 L772,1016 L757,1036 L737,1040 Z" fill="#0a86e0"/>
<path d="M694,722 L706,715 L727,738 L716,752 Z" fill="#0a86e0"/>
<circle cx="716.0" cy="735.0" r="10.2" fill="url(#gd)"/>
<circle cx="701.5" cy="763.0" r="10.2" fill="url(#gd)"/>
<circle cx="657.0" cy="803.0" r="10.2" fill="url(#gd)"/>
<circle cx="672.5" cy="824.5" r="10.2" fill="url(#gd)"/>
<circle cx="693.5" cy="851.0" r="10.2" fill="url(#gd)"/>
<circle cx="700.0" cy="826.4" r="10.2" fill="url(#gd)"/>
<circle cx="714.0" cy="875.0" r="10.2" fill="url(#gd)"/>
<circle cx="720.3" cy="852.7" r="10.2" fill="url(#gd)"/>
<circle cx="723.3" cy="905.5" r="10.2" fill="url(#gd)"/>
<circle cx="739.5" cy="911.4" r="10.2" fill="url(#gd)"/>
<circle cx="744.3" cy="929.4" r="10.2" fill="url(#gd)"/>
<circle cx="774.2" cy="929.4" r="10.2" fill="url(#gd)"/>
<circle cx="742.7" cy="928.8" r="10.2" fill="url(#gd)"/>
<circle cx="779.8" cy="968.3" r="10.2" fill="url(#gd)"/>
<circle cx="758.3" cy="970.7" r="10.2" fill="url(#gd)"/>
<circle cx="777.4" cy="993.5" r="10.2" fill="url(#gd)"/>
<circle cx="751.1" cy="998.3" r="10.2" fill="url(#gd)"/>
<circle cx="763.1" cy="1019.8" r="10.2" fill="url(#gd)"/>
<circle cx="742.7" cy="1024.6" r="10.2" fill="url(#gd)"/>
<g filter="url(#blur2)"><path d="M753.0,1014.0 C754.7,1010.0 760.6,997.9 763.1,989.9 C765.6,981.9 767.0,973.9 767.8,965.9 C768.6,957.9 768.6,949.9 767.8,941.9 C767.0,933.9 765.2,925.5 763.1,918.0 C761.0,910.5 759.5,903.7 755.0,897.0 C750.5,890.3 743.1,885.1 735.9,877.9 C728.7,870.7 719.9,862.9 711.9,853.9 C703.9,844.9 694.9,833.0 687.9,824.0 C680.9,815.0 674.1,807.2 670.0,800.0 C665.9,792.8 664.0,786.8 663.0,781.0 C662.0,775.2 662.5,770.2 664.0,765.0 C665.5,759.8 668.8,754.2 672.0,750.0 C675.2,745.8 681.2,741.7 683.0,740.0" fill="none" stroke="#064c10" stroke-width="31.0" stroke-linejoin="round"/><path d="M664.3,734.5 L708.1,724.3 L691.9,765.1 L683.0,749.0 L673.5,747.0 Z" fill="#064c10" stroke="#064c10" stroke-width="15" stroke-linejoin="round"/></g>
<path d="M753.0,1014.0 C754.7,1010.0 760.6,997.9 763.1,989.9 C765.6,981.9 767.0,973.9 767.8,965.9 C768.6,957.9 768.6,949.9 767.8,941.9 C767.0,933.9 765.2,925.5 763.1,918.0 C761.0,910.5 759.5,903.7 755.0,897.0 C750.5,890.3 743.1,885.1 735.9,877.9 C728.7,870.7 719.9,862.9 711.9,853.9 C703.9,844.9 694.9,833.0 687.9,824.0 C680.9,815.0 674.1,807.2 670.0,800.0 C665.9,792.8 664.0,786.8 663.0,781.0 C662.0,775.2 662.5,770.2 664.0,765.0 C665.5,759.8 668.8,754.2 672.0,750.0 C675.2,745.8 681.2,741.7 683.0,740.0" fill="none" stroke="#0b6a1a" stroke-width="18.5" stroke-linejoin="round"/><path d="M664.3,734.5 L708.1,724.3 L691.9,765.1 L683.0,749.0 L673.5,747.0 Z" fill="#0b6a1a" stroke="#0b6a1a" stroke-width="5" stroke-linejoin="miter"/>
<path d="M753.0,1014.0 C754.7,1010.0 760.6,997.9 763.1,989.9 C765.6,981.9 767.0,973.9 767.8,965.9 C768.6,957.9 768.6,949.9 767.8,941.9 C767.0,933.9 765.2,925.5 763.1,918.0 C761.0,910.5 759.5,903.7 755.0,897.0 C750.5,890.3 743.1,885.1 735.9,877.9 C728.7,870.7 719.9,862.9 711.9,853.9 C703.9,844.9 694.9,833.0 687.9,824.0 C680.9,815.0 674.1,807.2 670.0,800.0 C665.9,792.8 664.0,786.8 663.0,781.0 C662.0,775.2 662.5,770.2 664.0,765.0 C665.5,759.8 668.8,754.2 672.0,750.0 C675.2,745.8 681.2,741.7 683.0,740.0" fill="none" stroke="#08c408" stroke-width="14.0" stroke-linejoin="round"/><path d="M664.3,734.5 L708.1,724.3 L691.9,765.1 L683.0,749.0 L673.5,747.0 Z" fill="#08c408"/>
<text x="673.0" y="714.5" font-size="56.5" font-weight="bold" fill="#10b818" stroke="#0a6a14" stroke-width="1.6" paint-order="stroke">e<tspan font-size="38.4" dy="-16.9">-</tspan></text>
<circle cx="963.5" cy="786.4" r="37.0" fill="url(#gs)"/>
<circle cx="1047.0" cy="791.0" r="37.0" fill="url(#gs)"/>
<circle cx="1125.0" cy="790.5" r="37.0" fill="url(#gs)"/>
<circle cx="1213.0" cy="784.5" r="37.0" fill="url(#gs)"/>
<circle cx="1290.2" cy="792.3" r="37.0" fill="url(#gs)"/>
<circle cx="994.6" cy="861.3" r="37.5" fill="url(#gs)"/>
<circle cx="1088.0" cy="869.5" r="37.5" fill="url(#gs)"/>
<circle cx="1165.0" cy="866.0" r="37.5" fill="url(#gs)"/>
<circle cx="1242.8" cy="864.6" r="38.0" fill="url(#gs)"/>
<circle cx="1324.0" cy="873.0" r="38.0" fill="url(#gs)"/>
<circle cx="972.4" cy="934.6" r="38.0" fill="url(#gs)"/>
<circle cx="1054.6" cy="934.0" r="38.0" fill="url(#gs)"/>
<circle cx="1131.0" cy="932.5" r="38.0" fill="url(#gs)"/>
<circle cx="1214.0" cy="941.0" r="37.5" fill="url(#gs)"/>
<circle cx="1286.7" cy="938.9" r="37.5" fill="url(#gs)"/>
<circle cx="1001.4" cy="1007.3" r="38.0" fill="url(#gs)"/>
<circle cx="1080.0" cy="1006.9" r="38.0" fill="url(#gs)"/>
<circle cx="1167.7" cy="1005.4" r="38.0" fill="url(#gs)"/>
<circle cx="1250.8" cy="1009.7" r="38.0" fill="url(#gs)"/>
<circle cx="1335.1" cy="1014.6" r="38.5" fill="url(#gs)"/>
<rect x="924.2" y="1045.6" width="443.2" height="16.5" fill="#c9c9c9" stroke="#9a9a9a" stroke-width="1"/>
<path d="M957.5,748.4 L978.1,742.0 L988.0,752.7 L999.3,763.3 L1005.0,769.7 L1007.8,776.7 L1007.8,790.9 L996.5,794.4 L980.9,798.0 L974.5,817.8 L966.7,820.6 L959.7,796.6 L962.5,771.1 L972.4,765.4 L966.7,754.1 Z" fill="#0a86e0"/>
<path d="M935.6,827.7 L958.2,822.0 L979.5,820.6 L988.7,831.3 L982.3,840.5 L968.1,844.0 L952.6,836.2 Z" fill="#0a86e0"/>
<path d="M1130.0,779.2 L1148.6,761.6 L1170.2,750.8 L1178.0,754.7 L1176.1,769.4 L1164.3,779.2 L1148.6,789.0 L1147.6,812.5 L1157.5,807.6 L1158.4,796.9 L1168.2,798.8 L1178.0,806.7 L1187.8,814.5 L1197.6,802.7 L1206.5,788.0 L1197.6,772.4 L1207.5,781.2 L1211.4,794.9 L1216.3,812.5 L1209.4,821.4 L1197.6,823.3 L1182.9,818.4 L1168.2,825.3 L1153.5,832.2 L1148.6,837.1 L1136.9,839.0 L1129.0,833.1 L1138.8,828.2 L1141.8,818.4 L1142.7,806.7 L1134.9,802.7 L1127.1,804.7 L1109.4,798.8 L1089.8,792.9 L1074.1,791.0 L1074.1,772.4 L1085.9,774.3 L1087.8,782.2 L1099.6,783.1 L1109.4,785.1 L1129.0,791.0 Z" fill="#0a86e0"/>
<path d="M1118.3,812.1 L1129.6,815.0 L1123.9,824.2 L1115.4,820.6 Z" fill="#0a86e0"/>
<path d="M1070.1,840.5 L1077.5,841.9 L1074.4,846.4 Z" fill="#0a86e0"/>
<path d="M1024.0,825.3 L1029.4,826.3 L1029.9,843.9 L1026.5,834.1 Z" fill="#0a86e0"/>
<path d="M988.0,892.9 L993.6,880.1 L1010.6,873.0 L1019.1,877.3 L1033.3,882.9 L1047.5,885.8 L1061.6,892.9 Z" fill="#0a86e0"/>
<path d="M1024.5,777.3 L1036.3,785.1 L1025.5,792.0 Z" fill="#0a86e0"/>
<path d="M1028.4,773.3 L1032.4,763.0 L1068.6,750.3 L1078.4,758.6 L1086.3,778.2 L1098.0,783.1 L1130.4,792.0 L1131.4,803.7 L1117.6,798.8 L1102.0,796.9 L1094.1,797.8 L1088.2,802.7 L1083.3,808.6 L1078.4,817.5 L1078.4,823.3 L1068.6,823.3 L1068.6,814.5 L1062.7,805.7 L1063.7,802.7 L1068.6,792.9 L1052.9,774.3 Z" fill="#0a86e0"/>
<path d="M1033.3,800.8 L1044.1,796.9 L1052.9,799.8 L1062.7,805.7 L1068.6,814.5 L1068.6,823.3 L1062.7,823.3 L1054.9,818.4 L1047.1,819.4 L1039.2,816.5 L1032.4,808.6 Z" fill="#0a86e0"/>
<path d="M1233.6,783.8 L1240.6,776.7 L1249.1,782.4 L1264.7,803.6 L1261.9,817.8 L1249.1,837.6 L1252.0,847.5 L1263.3,860.3 L1277.5,874.4 L1290.2,892.9 L1280.3,892.9 L1263.3,878.7 L1247.7,861.7 L1242.0,843.3 L1235.0,841.9 L1235.0,832.0 L1246.3,809.3 L1243.5,790.9 Z" fill="#0a86e0"/>
<path d="M1249.1,776.7 L1270.4,768.2 L1290.2,755.5 L1305.8,786.6 L1334.1,775.3 L1335.5,756.9 L1339.1,769.7 L1332.7,792.3 L1317.1,803.6 L1298.7,792.3 L1277.5,782.4 L1260.5,785.2 Z" fill="#0a86e0"/>
<path d="M1175.5,887.2 L1196.7,882.9 L1220.8,882.9 L1230.7,892.9 L1175.5,892.9 Z" fill="#0a86e0"/>
<path d="M983.7,897.1 L993.6,890.0 L1005.0,890.0 L999.3,894.2 Z" fill="#0a86e0"/>
<path d="M1040.4,890.0 L1060.2,890.0 L1055.9,894.2 Z" fill="#0a86e0"/>
<path d="M999.3,962.2 L1010.6,956.6 L1012.0,966.5 L1005.0,975.0 L1002.1,969.3 Z" fill="#0a86e0"/>
<path d="M1115.4,969.3 L1132.4,970.7 L1138.1,977.8 L1131.0,982.0 L1118.3,977.8 Z" fill="#0a86e0"/>
<path d="M1165.6,890.0 L1230.7,890.0 L1218.0,898.5 L1196.7,902.7 L1178.3,909.8 L1167.0,932.5 L1162.7,918.3 Z" fill="#0a86e0"/>
<path d="M1277.5,890.0 L1288.8,890.0 L1291.6,896.4 L1283.1,894.2 Z" fill="#0a86e0"/>
<path d="M1301.5,962.2 L1312.9,962.2 L1322.1,964.3 L1310.0,969.3 L1302.2,977.1 L1310.0,987.7 L1305.8,993.4 L1298.7,1001.9 L1288.8,1009.0 L1284.5,1014.6 L1280.3,1016.0 L1280.3,1011.8 L1288.8,1003.3 L1294.4,994.8 L1298.7,980.6 L1298.0,969.3 Z" fill="#0a86e0"/>
<path d="M1067.6,807.6 L1073.5,803.7 L1075.5,811.6 Z" fill="#a3a3a3"/>
<circle cx="943.4" cy="756.9" r="5.7" fill="url(#gd)"/>
<circle cx="954.0" cy="753.4" r="5.7" fill="url(#gd)"/>
<circle cx="965.3" cy="755.5" r="5.7" fill="url(#gd)"/>
<circle cx="975.2" cy="748.4" r="5.7" fill="url(#gd)"/>
<circle cx="982.3" cy="758.3" r="5.7" fill="url(#gd)"/>
<circle cx="994.3" cy="752.7" r="5.7" fill="url(#gd)"/>
<circle cx="993.6" cy="761.9" r="5.7" fill="url(#gd)"/>
<circle cx="1006.4" cy="761.2" r="5.7" fill="url(#gd)"/>
<circle cx="1005.7" cy="771.1" r="5.7" fill="url(#gd)"/>
<circle cx="1000.7" cy="796.6" r="5.7" fill="url(#gd)"/>
<circle cx="990.8" cy="803.6" r="5.7" fill="url(#gd)"/>
<circle cx="1002.1" cy="807.9" r="5.7" fill="url(#gd)"/>
<circle cx="990.8" cy="815.7" r="5.7" fill="url(#gd)"/>
<circle cx="1002.1" cy="820.6" r="5.7" fill="url(#gd)"/>
<circle cx="1012.0" cy="815.0" r="5.7" fill="url(#gd)"/>
<circle cx="1010.6" cy="829.1" r="5.7" fill="url(#gd)"/>
<circle cx="1019.1" cy="822.0" r="5.7" fill="url(#gd)"/>
<circle cx="1007.8" cy="789.5" r="5.7" fill="url(#gd)"/>
<circle cx="1093.5" cy="748.4" r="5.7" fill="url(#gd)"/>
<circle cx="1083.6" cy="755.5" r="5.7" fill="url(#gd)"/>
<circle cx="1094.9" cy="760.4" r="5.7" fill="url(#gd)"/>
<circle cx="1104.8" cy="765.4" r="5.7" fill="url(#gd)"/>
<circle cx="1082.9" cy="766.8" r="5.7" fill="url(#gd)"/>
<circle cx="1093.5" cy="772.5" r="5.7" fill="url(#gd)"/>
<circle cx="1102.7" cy="781.0" r="5.7" fill="url(#gd)"/>
<circle cx="1093.5" cy="801.5" r="5.7" fill="url(#gd)"/>
<circle cx="1099.8" cy="810.0" r="5.7" fill="url(#gd)"/>
<circle cx="1085.7" cy="812.1" r="5.7" fill="url(#gd)"/>
<circle cx="1082.9" cy="820.6" r="5.7" fill="url(#gd)"/>
<circle cx="1095.6" cy="822.0" r="5.7" fill="url(#gd)"/>
<circle cx="1105.5" cy="820.6" r="5.7" fill="url(#gd)"/>
<circle cx="1111.2" cy="837.6" r="5.7" fill="url(#gd)"/>
<circle cx="1039.0" cy="853.2" r="5.7" fill="url(#gd)"/>
<circle cx="1033.3" cy="864.5" r="5.7" fill="url(#gd)"/>
<circle cx="1046.0" cy="864.5" r="5.7" fill="url(#gd)"/>
<circle cx="1027.6" cy="874.4" r="5.7" fill="url(#gd)"/>
<circle cx="1039.0" cy="874.4" r="5.7" fill="url(#gd)"/>
<circle cx="1017.7" cy="880.1" r="5.7" fill="url(#gd)"/>
<circle cx="1013.5" cy="890.0" r="5.7" fill="url(#gd)"/>
<circle cx="1033.3" cy="888.6" r="5.7" fill="url(#gd)"/>
<circle cx="1139.5" cy="881.5" r="5.7" fill="url(#gd)"/>
<circle cx="1146.6" cy="888.6" r="5.7" fill="url(#gd)"/>
<circle cx="1138.1" cy="892.9" r="5.7" fill="url(#gd)"/>
<circle cx="1174.1" cy="752.7" r="5.7" fill="url(#gd)"/>
<circle cx="1186.1" cy="752.7" r="5.7" fill="url(#gd)"/>
<circle cx="1169.8" cy="764.7" r="5.7" fill="url(#gd)"/>
<circle cx="1182.6" cy="765.4" r="5.7" fill="url(#gd)"/>
<circle cx="1162.7" cy="774.6" r="5.7" fill="url(#gd)"/>
<circle cx="1172.7" cy="778.9" r="5.7" fill="url(#gd)"/>
<circle cx="1171.2" cy="790.2" r="5.7" fill="url(#gd)"/>
<circle cx="1202.4" cy="808.6" r="5.7" fill="url(#gd)"/>
<circle cx="1198.1" cy="818.5" r="5.7" fill="url(#gd)"/>
<circle cx="1178.3" cy="824.9" r="5.7" fill="url(#gd)"/>
<circle cx="1188.9" cy="826.3" r="5.7" fill="url(#gd)"/>
<circle cx="1200.3" cy="830.5" r="5.7" fill="url(#gd)"/>
<circle cx="1188.2" cy="838.3" r="5.7" fill="url(#gd)"/>
<circle cx="1199.6" cy="843.3" r="5.7" fill="url(#gd)"/>
<circle cx="1256.9" cy="751.2" r="5.7" fill="url(#gd)"/>
<circle cx="1268.2" cy="752.0" r="5.7" fill="url(#gd)"/>
<circle cx="1278.2" cy="755.5" r="5.7" fill="url(#gd)"/>
<circle cx="1235.7" cy="761.9" r="5.7" fill="url(#gd)"/>
<circle cx="1249.8" cy="763.3" r="5.7" fill="url(#gd)"/>
<circle cx="1261.2" cy="763.3" r="5.7" fill="url(#gd)"/>
<circle cx="1272.5" cy="766.8" r="5.7" fill="url(#gd)"/>
<circle cx="1250.5" cy="773.9" r="5.7" fill="url(#gd)"/>
<circle cx="1293.7" cy="798.7" r="5.7" fill="url(#gd)"/>
<circle cx="1289.5" cy="810.7" r="5.7" fill="url(#gd)"/>
<circle cx="1297.3" cy="817.8" r="5.7" fill="url(#gd)"/>
<circle cx="1288.1" cy="822.0" r="5.7" fill="url(#gd)"/>
<circle cx="1278.9" cy="829.8" r="5.7" fill="url(#gd)"/>
<circle cx="1290.2" cy="834.8" r="5.7" fill="url(#gd)"/>
<circle cx="1150.0" cy="888.6" r="5.7" fill="url(#gd)"/>
<circle cx="1171.2" cy="892.9" r="5.7" fill="url(#gd)"/>
<circle cx="1183.3" cy="891.4" r="5.7" fill="url(#gd)"/>
<circle cx="1005.0" cy="898.5" r="5.7" fill="url(#gd)"/>
<circle cx="1016.3" cy="892.8" r="5.7" fill="url(#gd)"/>
<circle cx="1026.2" cy="899.9" r="5.7" fill="url(#gd)"/>
<circle cx="1013.5" cy="902.7" r="5.7" fill="url(#gd)"/>
<circle cx="1006.4" cy="909.8" r="5.7" fill="url(#gd)"/>
<circle cx="1016.3" cy="914.8" r="5.7" fill="url(#gd)"/>
<circle cx="1033.3" cy="891.4" r="5.7" fill="url(#gd)"/>
<circle cx="965.3" cy="974.3" r="5.7" fill="url(#gd)"/>
<circle cx="956.1" cy="981.3" r="5.7" fill="url(#gd)"/>
<circle cx="966.0" cy="987.7" r="5.7" fill="url(#gd)"/>
<circle cx="956.8" cy="993.4" r="5.7" fill="url(#gd)"/>
<circle cx="966.7" cy="999.0" r="5.7" fill="url(#gd)"/>
<circle cx="955.4" cy="1005.4" r="5.7" fill="url(#gd)"/>
<circle cx="973.8" cy="1006.8" r="5.7" fill="url(#gd)"/>
<circle cx="963.9" cy="1014.6" r="5.7" fill="url(#gd)"/>
<circle cx="950.4" cy="1016.7" r="5.7" fill="url(#gd)"/>
<circle cx="958.9" cy="1026.7" r="5.7" fill="url(#gd)"/>
<circle cx="1042.5" cy="970.0" r="5.7" fill="url(#gd)"/>
<circle cx="1022.0" cy="987.0" r="5.7" fill="url(#gd)"/>
<circle cx="1033.3" cy="987.7" r="5.7" fill="url(#gd)"/>
<circle cx="1029.0" cy="996.9" r="5.7" fill="url(#gd)"/>
<circle cx="1036.1" cy="1017.5" r="5.7" fill="url(#gd)"/>
<circle cx="1030.5" cy="1026.7" r="5.7" fill="url(#gd)"/>
<circle cx="1034.7" cy="1038.0" r="5.7" fill="url(#gd)"/>
<circle cx="1104.1" cy="966.5" r="5.7" fill="url(#gd)"/>
<circle cx="1111.2" cy="972.8" r="5.7" fill="url(#gd)"/>
<circle cx="1100.6" cy="975.0" r="5.7" fill="url(#gd)"/>
<circle cx="1109.8" cy="982.0" r="5.7" fill="url(#gd)"/>
<circle cx="1122.5" cy="987.7" r="5.7" fill="url(#gd)"/>
<circle cx="1129.6" cy="1007.5" r="5.7" fill="url(#gd)"/>
<circle cx="1119.7" cy="1013.9" r="5.7" fill="url(#gd)"/>
<circle cx="1139.5" cy="1014.6" r="5.7" fill="url(#gd)"/>
<circle cx="1129.6" cy="1021.0" r="5.7" fill="url(#gd)"/>
<circle cx="1108.3" cy="1029.5" r="5.7" fill="url(#gd)"/>
<circle cx="1119.7" cy="1026.7" r="5.7" fill="url(#gd)"/>
<circle cx="1129.6" cy="1032.3" r="5.7" fill="url(#gd)"/>
<circle cx="1114.7" cy="1040.8" r="5.7" fill="url(#gd)"/>
<circle cx="1138.1" cy="895.0" r="5.7" fill="url(#gd)"/>
<circle cx="1159.9" cy="902.0" r="5.7" fill="url(#gd)"/>
<circle cx="1171.2" cy="895.0" r="5.7" fill="url(#gd)"/>
<circle cx="1184.0" cy="892.8" r="5.7" fill="url(#gd)"/>
<circle cx="1172.7" cy="905.6" r="5.7" fill="url(#gd)"/>
<circle cx="1158.5" cy="913.4" r="5.7" fill="url(#gd)"/>
<circle cx="1177.6" cy="916.2" r="5.7" fill="url(#gd)"/>
<circle cx="1164.2" cy="922.6" r="5.7" fill="url(#gd)"/>
<circle cx="1174.1" cy="934.6" r="5.7" fill="url(#gd)"/>
<circle cx="1162.7" cy="938.9" r="5.7" fill="url(#gd)"/>
<circle cx="1184.0" cy="941.7" r="5.7" fill="url(#gd)"/>
<circle cx="1193.9" cy="948.8" r="5.7" fill="url(#gd)"/>
<circle cx="1173.4" cy="947.4" r="5.7" fill="url(#gd)"/>
<circle cx="1160.6" cy="950.2" r="5.7" fill="url(#gd)"/>
<circle cx="1181.9" cy="953.7" r="5.7" fill="url(#gd)"/>
<circle cx="1171.2" cy="958.7" r="5.7" fill="url(#gd)"/>
<circle cx="1155.7" cy="961.5" r="5.7" fill="url(#gd)"/>
<circle cx="1166.3" cy="967.9" r="5.7" fill="url(#gd)"/>
<circle cx="1211.6" cy="968.6" r="5.7" fill="url(#gd)"/>
<circle cx="1222.9" cy="964.3" r="5.7" fill="url(#gd)"/>
<circle cx="1234.3" cy="965.8" r="5.7" fill="url(#gd)"/>
<circle cx="1218.0" cy="975.7" r="5.7" fill="url(#gd)"/>
<circle cx="1229.3" cy="975.0" r="5.7" fill="url(#gd)"/>
<circle cx="1251.3" cy="968.6" r="5.7" fill="url(#gd)"/>
<circle cx="1263.3" cy="962.2" r="5.7" fill="url(#gd)"/>
<circle cx="1263.3" cy="971.4" r="5.7" fill="url(#gd)"/>
<circle cx="1274.6" cy="970.7" r="5.7" fill="url(#gd)"/>
<circle cx="1276.0" cy="981.3" r="5.7" fill="url(#gd)"/>
<circle cx="1287.4" cy="984.9" r="5.7" fill="url(#gd)"/>
<circle cx="1254.1" cy="914.1" r="5.7" fill="url(#gd)"/>
<circle cx="1264.7" cy="907.0" r="5.7" fill="url(#gd)"/>
<circle cx="1274.6" cy="903.5" r="5.7" fill="url(#gd)"/>
<circle cx="1285.9" cy="904.9" r="5.7" fill="url(#gd)"/>
<circle cx="1256.2" cy="926.1" r="5.7" fill="url(#gd)"/>
<circle cx="1315.0" cy="901.3" r="5.7" fill="url(#gd)"/>
<circle cx="1315.0" cy="911.2" r="5.7" fill="url(#gd)"/>
<circle cx="1327.0" cy="910.5" r="5.7" fill="url(#gd)"/>
<circle cx="1327.7" cy="920.4" r="5.7" fill="url(#gd)"/>
<circle cx="1339.1" cy="925.4" r="5.7" fill="url(#gd)"/>
<circle cx="1318.5" cy="957.3" r="5.7" fill="url(#gd)"/>
<circle cx="1337.6" cy="957.3" r="5.7" fill="url(#gd)"/>
<circle cx="1327.7" cy="965.1" r="5.7" fill="url(#gd)"/>
<circle cx="1317.1" cy="970.7" r="5.7" fill="url(#gd)"/>
<circle cx="1336.9" cy="972.8" r="5.7" fill="url(#gd)"/>
<circle cx="1325.6" cy="977.8" r="5.7" fill="url(#gd)"/>
<circle cx="1314.3" cy="981.3" r="5.7" fill="url(#gd)"/>
<circle cx="1333.4" cy="984.9" r="5.7" fill="url(#gd)"/>
<circle cx="1210.9" cy="1011.1" r="5.7" fill="url(#gd)"/>
<circle cx="1182.6" cy="1015.3" r="5.7" fill="url(#gd)"/>
<circle cx="1196.0" cy="1018.9" r="5.7" fill="url(#gd)"/>
<circle cx="1207.4" cy="1023.8" r="5.7" fill="url(#gd)"/>
<circle cx="1220.1" cy="1024.5" r="5.7" fill="url(#gd)"/>
<circle cx="1186.1" cy="1027.4" r="5.7" fill="url(#gd)"/>
<circle cx="1196.0" cy="1034.4" r="5.7" fill="url(#gd)"/>
<circle cx="1208.1" cy="1035.2" r="5.7" fill="url(#gd)"/>
<circle cx="1219.4" cy="1037.3" r="5.7" fill="url(#gd)"/>
<circle cx="1202.4" cy="1045.8" r="5.7" fill="url(#gd)"/>
<circle cx="1288.8" cy="1021.0" r="5.7" fill="url(#gd)"/>
<circle cx="1281.0" cy="1031.6" r="5.7" fill="url(#gd)"/>
<circle cx="1295.2" cy="1029.5" r="5.7" fill="url(#gd)"/>
<circle cx="1278.2" cy="1042.2" r="5.7" fill="url(#gd)"/>
<circle cx="1290.9" cy="1042.9" r="5.7" fill="url(#gd)"/>
<circle cx="1300.8" cy="1042.2" r="5.7" fill="url(#gd)"/>
<g filter="url(#blur3)" opacity="0.75"><path d="M1022.5,758.0 C1022.0,760.4 1020.3,766.5 1019.5,772.5 C1018.7,778.5 1016.8,787.1 1017.7,793.7 C1018.6,800.3 1021.0,806.8 1024.8,812.2 C1028.6,817.6 1034.3,823.2 1040.4,826.3 C1046.5,829.4 1053.3,830.1 1061.6,830.6 C1069.9,831.1 1081.0,829.0 1090.0,829.2 C1099.0,829.4 1109.1,829.6 1115.5,832.0 C1121.9,834.4 1125.6,839.0 1128.2,843.3 C1130.8,847.5 1131.2,852.3 1131.0,857.5 C1130.8,862.7 1128.6,869.6 1126.8,874.5 C1125.0,879.4 1122.6,882.8 1120.0,887.0 C1117.4,891.2 1115.5,896.8 1111.2,899.9 C1106.9,903.0 1100.1,904.9 1094.2,905.6 C1088.3,906.3 1082.4,905.2 1075.8,904.2 C1069.2,903.2 1061.2,899.9 1054.6,899.9 C1048.0,899.9 1041.5,901.6 1036.1,904.2 C1030.7,906.8 1025.1,910.8 1022.0,915.5 C1018.9,920.2 1018.2,926.6 1017.7,932.5 C1017.2,938.4 1017.3,945.0 1019.2,950.9 C1021.1,956.8 1024.9,962.9 1029.1,967.9 C1033.3,972.9 1040.1,976.5 1044.6,980.7 C1049.1,985.0 1053.9,987.5 1056.0,993.4 C1058.1,999.3 1057.2,1012.2 1057.4,1016.0" fill="none" stroke="#d22cb8" stroke-width="19" stroke-linecap="round" stroke-linejoin="round"/><path d="M1035,1014 L1073,1022 L1046,1052 Z" fill="#d22cb8"/></g>
<g filter="url(#blur1)" opacity="0.9"><path d="M1022.5,758.0 C1022.0,760.4 1020.3,766.5 1019.5,772.5 C1018.7,778.5 1016.8,787.1 1017.7,793.7 C1018.6,800.3 1021.0,806.8 1024.8,812.2 C1028.6,817.6 1034.3,823.2 1040.4,826.3 C1046.5,829.4 1053.3,830.1 1061.6,830.6 C1069.9,831.1 1081.0,829.0 1090.0,829.2 C1099.0,829.4 1109.1,829.6 1115.5,832.0 C1121.9,834.4 1125.6,839.0 1128.2,843.3 C1130.8,847.5 1131.2,852.3 1131.0,857.5 C1130.8,862.7 1128.6,869.6 1126.8,874.5 C1125.0,879.4 1122.6,882.8 1120.0,887.0 C1117.4,891.2 1115.5,896.8 1111.2,899.9 C1106.9,903.0 1100.1,904.9 1094.2,905.6 C1088.3,906.3 1082.4,905.2 1075.8,904.2 C1069.2,903.2 1061.2,899.9 1054.6,899.9 C1048.0,899.9 1041.5,901.6 1036.1,904.2 C1030.7,906.8 1025.1,910.8 1022.0,915.5 C1018.9,920.2 1018.2,926.6 1017.7,932.5 C1017.2,938.4 1017.3,945.0 1019.2,950.9 C1021.1,956.8 1024.9,962.9 1029.1,967.9 C1033.3,972.9 1040.1,976.5 1044.6,980.7 C1049.1,985.0 1053.9,987.5 1056.0,993.4 C1058.1,999.3 1057.2,1012.2 1057.4,1016.0" fill="none" stroke="#b4109e" stroke-width="15" stroke-linecap="round" stroke-linejoin="round"/><path d="M1037,1014.5 L1072,1023.5 L1047.5,1049 Z" fill="#b4109e"/></g>
<path d="M1022.5,758.0 C1022.0,760.4 1020.3,766.5 1019.5,772.5 C1018.7,778.5 1016.8,787.1 1017.7,793.7 C1018.6,800.3 1021.0,806.8 1024.8,812.2 C1028.6,817.6 1034.3,823.2 1040.4,826.3 C1046.5,829.4 1053.3,830.1 1061.6,830.6 C1069.9,831.1 1081.0,829.0 1090.0,829.2 C1099.0,829.4 1109.1,829.6 1115.5,832.0 C1121.9,834.4 1125.6,839.0 1128.2,843.3 C1130.8,847.5 1131.2,852.3 1131.0,857.5 C1130.8,862.7 1128.6,869.6 1126.8,874.5 C1125.0,879.4 1122.6,882.8 1120.0,887.0 C1117.4,891.2 1115.5,896.8 1111.2,899.9 C1106.9,903.0 1100.1,904.9 1094.2,905.6 C1088.3,906.3 1082.4,905.2 1075.8,904.2 C1069.2,903.2 1061.2,899.9 1054.6,899.9 C1048.0,899.9 1041.5,901.6 1036.1,904.2 C1030.7,906.8 1025.1,910.8 1022.0,915.5 C1018.9,920.2 1018.2,926.6 1017.7,932.5 C1017.2,938.4 1017.3,945.0 1019.2,950.9 C1021.1,956.8 1024.9,962.9 1029.1,967.9 C1033.3,972.9 1040.1,976.5 1044.6,980.7 C1049.1,985.0 1053.9,987.5 1056.0,993.4 C1058.1,999.3 1057.2,1012.2 1057.4,1016.0" fill="none" stroke="#e22cc0" stroke-width="10.8" stroke-linejoin="round"/>
<path d="M1022.5,758.0 C1022.0,760.4 1020.3,766.5 1019.5,772.5 C1018.7,778.5 1016.8,787.1 1017.7,793.7 C1018.6,800.3 1021.0,806.8 1024.8,812.2 C1028.6,817.6 1034.3,823.2 1040.4,826.3 C1046.5,829.4 1053.3,830.1 1061.6,830.6 C1069.9,831.1 1081.0,829.0 1090.0,829.2 C1099.0,829.4 1109.1,829.6 1115.5,832.0 C1121.9,834.4 1125.6,839.0 1128.2,843.3 C1130.8,847.5 1131.2,852.3 1131.0,857.5 C1130.8,862.7 1128.6,869.6 1126.8,874.5 C1125.0,879.4 1122.6,882.8 1120.0,887.0 C1117.4,891.2 1115.5,896.8 1111.2,899.9 C1106.9,903.0 1100.1,904.9 1094.2,905.6 C1088.3,906.3 1082.4,905.2 1075.8,904.2 C1069.2,903.2 1061.2,899.9 1054.6,899.9 C1048.0,899.9 1041.5,901.6 1036.1,904.2 C1030.7,906.8 1025.1,910.8 1022.0,915.5 C1018.9,920.2 1018.2,926.6 1017.7,932.5 C1017.2,938.4 1017.3,945.0 1019.2,950.9 C1021.1,956.8 1024.9,962.9 1029.1,967.9 C1033.3,972.9 1040.1,976.5 1044.6,980.7 C1049.1,985.0 1053.9,987.5 1056.0,993.4 C1058.1,999.3 1057.2,1012.2 1057.4,1016.0" fill="none" stroke="#e000b4" stroke-width="11.4" stroke-dasharray="16 2.2" stroke-linejoin="round"/>
<path d="M1039,1016 L1069.5,1024 L1047.5,1046.5 Z" fill="#e000b4"/>
<path d="M1024.2,751 L1022.6,760" stroke="#e000b4" stroke-width="8" stroke-linecap="round"/>
<path d="M1407.9,665 H1742 V1045.4 H1407.9 V822.7 L1263,856 L1407.9,727.6 Z" fill="#fff" stroke="#000" stroke-width="5.7" stroke-linejoin="miter"/>
<text x="899.5" y="648.8" font-size="49.5" text-anchor="start" font-weight="bold" fill="#000" >(e)</text>
<text x="1105.3" y="698.0" font-size="49.4" text-anchor="start" font-weight="bold" fill="#000" >CE</text>
<text x="1010.8" y="734.2" font-size="38" font-weight="bold" fill="#d400aa" stroke="#d400aa" stroke-width="0.9">Li<tspan font-size="24.5" dy="-12.6">+</tspan></text>
<circle cx="1507.9" cy="839.4" r="67.0" fill="url(#gs)"/>
<circle cx="1623.1" cy="766.7" r="67.8" fill="url(#gs)"/>
<circle cx="1598.1" cy="940.1" r="67.8" fill="url(#gs)"/>
<path d="M1477.7,795.8 L1488.9,766.0 L1521.7,763.8 L1545.9,798.4 L1529.1,789.1 L1503.0,787.3 Z" fill="#0a86e0"/>
<path d="M1608.1,891.6 L1626.0,880.4 L1660.3,881.6 L1667.0,901.0 L1660.3,934.5 L1641.0,920.3 L1633.5,897.2 Z" fill="#0a86e0"/>
<path d="M1494.0,869.0 C1497.2,871.3 1506.8,877.3 1513.0,883.0 C1519.2,888.7 1526.3,895.5 1531.0,903.0 C1535.7,910.5 1538.9,919.3 1541.0,928.0 C1543.1,936.7 1543.3,946.0 1543.5,955.0 C1543.7,964.0 1542.2,977.5 1542.0,982.0" fill="none" stroke="#0a86e0" stroke-width="19" stroke-linejoin="round"/>
<path d="M1528.0,974.0 L1599.0,970.0 L1589.0,985.0 L1546.0,997.0 L1530.0,992.0 Z" fill="#0a86e0"/>
<circle cx="1502.3" cy="762.3" r="10.4" fill="url(#gd)"/>
<circle cx="1532.8" cy="769.4" r="10.4" fill="url(#gd)"/>
<circle cx="1490.0" cy="780.9" r="10.4" fill="url(#gd)"/>
<circle cx="1514.9" cy="778.7" r="10.4" fill="url(#gd)"/>
<circle cx="1535.5" cy="788.0" r="10.4" fill="url(#gd)"/>
<circle cx="1503.0" cy="791.0" r="10.4" fill="url(#gd)"/>
<circle cx="1634.6" cy="871.9" r="10.4" fill="url(#gd)"/>
<circle cx="1657.7" cy="875.6" r="10.4" fill="url(#gd)"/>
<circle cx="1630.5" cy="889.0" r="10.4" fill="url(#gd)"/>
<circle cx="1647.7" cy="894.6" r="10.4" fill="url(#gd)"/>
<circle cx="1663.3" cy="905.4" r="10.4" fill="url(#gd)"/>
<circle cx="1647.3" cy="916.6" r="10.4" fill="url(#gd)"/>
<circle cx="1495.6" cy="874.1" r="10.4" fill="url(#gd)"/>
<circle cx="1518.7" cy="886.0" r="10.4" fill="url(#gd)"/>
<circle cx="1555.2" cy="915.1" r="10.4" fill="url(#gd)"/>
<circle cx="1519.8" cy="932.6" r="10.4" fill="url(#gd)"/>
<circle cx="1558.9" cy="943.8" r="10.4" fill="url(#gd)"/>
<circle cx="1531.0" cy="949.4" r="10.4" fill="url(#gd)"/>
<circle cx="1523.5" cy="968.1" r="10.4" fill="url(#gd)"/>
<circle cx="1558.9" cy="977.4" r="10.4" fill="url(#gd)"/>
<circle cx="1581.3" cy="979.2" r="10.4" fill="url(#gd)"/>
<circle cx="1538.4" cy="988.6" r="10.4" fill="url(#gd)"/>
<g filter="url(#blur2)"><path d="M1548.0,989.0 C1548.1,985.5 1549.0,975.3 1548.5,968.0 C1548.0,960.7 1546.8,952.5 1545.0,945.0 C1543.2,937.5 1540.2,928.8 1537.5,923.0 C1534.8,917.2 1530.4,912.2 1529.0,910.0" fill="none" stroke="#064c10" stroke-width="29.0" stroke-linejoin="round"/><path d="M1514.5,919.5 L1501.9,877.0 L1546.0,896.5 L1537.0,901.0 L1526.0,911.0 Z" fill="#064c10" stroke="#064c10" stroke-width="15" stroke-linejoin="round"/></g>
<path d="M1548.0,989.0 C1548.1,985.5 1549.0,975.3 1548.5,968.0 C1548.0,960.7 1546.8,952.5 1545.0,945.0 C1543.2,937.5 1540.2,928.8 1537.5,923.0 C1534.8,917.2 1530.4,912.2 1529.0,910.0" fill="none" stroke="#0b6a1a" stroke-width="18.5" stroke-linejoin="round"/><path d="M1514.5,919.5 L1501.9,877.0 L1546.0,896.5 L1537.0,901.0 L1526.0,911.0 Z" fill="#0b6a1a" stroke="#0b6a1a" stroke-width="5" stroke-linejoin="miter"/>
<path d="M1548.0,989.0 C1548.1,985.5 1549.0,975.3 1548.5,968.0 C1548.0,960.7 1546.8,952.5 1545.0,945.0 C1543.2,937.5 1540.2,928.8 1537.5,923.0 C1534.8,917.2 1530.4,912.2 1529.0,910.0" fill="none" stroke="#08c408" stroke-width="14.0" stroke-linejoin="round"/><path d="M1514.5,919.5 L1501.9,877.0 L1546.0,896.5 L1537.0,901.0 L1526.0,911.0 Z" fill="#08c408"/>
<text x="1468.0" y="871.0" font-size="54.0" font-weight="bold" fill="#10b818" stroke="#0a6a14" stroke-width="1.6" paint-order="stroke">e<tspan font-size="36.7" dy="-16.2">-</tspan></text>
<text x="1625" y="721" font-size="29.8" font-weight="bold" text-anchor="middle">Electronically</text>
<text x="1625" y="756.3" font-size="29.8" font-weight="bold" text-anchor="middle">isolated</text>
<circle cx="337.6" cy="1131.4" r="18.8" fill="#a6a6a6"/>
<text x="365.3" y="1142.6" font-size="38.3" text-anchor="start" font-weight="normal" fill="#000" >Active material</text>
<circle cx="755.5" cy="1131.4" r="19.2" fill="#404040"/>
<text x="781.0" y="1142.6" font-size="38.3" text-anchor="start" font-weight="normal" fill="#000" >Carbon particle</text>
<circle cx="1183" cy="1131.4" r="19" fill="#0a86e0"/>
<text x="1210.5" y="1142.6" font-size="38.6" text-anchor="start" font-weight="normal" fill="#000" >PVdF</text>

</svg>
</body></html>
